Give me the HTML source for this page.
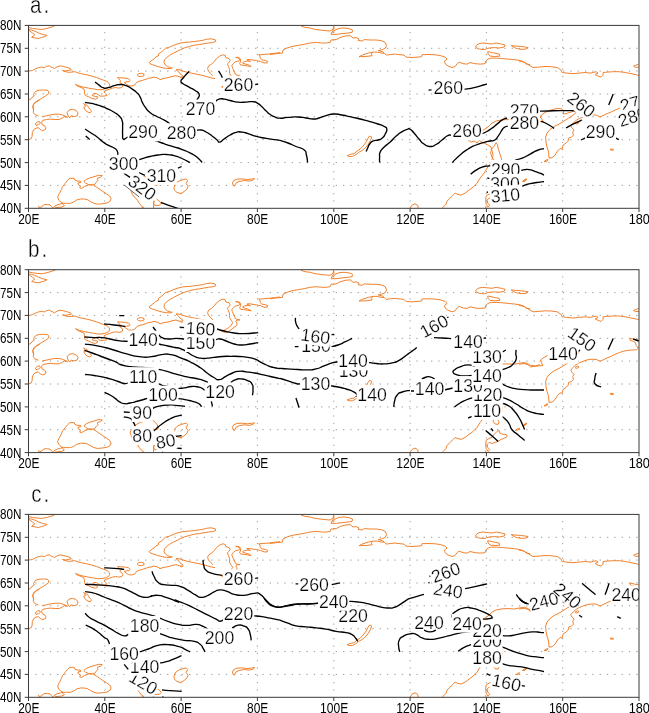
<!DOCTYPE html><html><head><meta charset="utf-8"><title>contours</title><style>html,body{margin:0;padding:0;background:#fff}svg{display:block}text{font-family:"Liberation Sans",sans-serif;fill:#000}</style></head><body>
<svg width="649" height="713" viewBox="0 0 649 713">
<rect width="649" height="713" fill="#fff"/>
<defs>
<clipPath id="cp"><rect x="28.5" y="25.4" width="610.5" height="182.9"/></clipPath>
<g id="coast"><path d="M28.6 27.6 L32.3 28.4 L37.3 29.1 L42.2 29.4 L47.1 28.4 L52.0 26.9 L55.7 25.4 M28.6 29.6 L31.7 30.1 L34.8 31.1 L38.5 32.9 L42.8 34.5 L47.1 35.4 L44.7 36.6 L41.6 37.5 L38.5 38.5 L34.8 37.9 L31.7 37.3 L33.6 35.8 L34.8 34.8 L32.3 32.9 L29.9 31.1 L28.6 29.9 M28.6 71.1 L32.3 70.5 L35.4 68.9 L38.5 67.6 L41.6 67.1 L44.7 67.6 L46.5 66.4 L49.6 65.7 L50.8 67.1 L52.7 67.6 L54.5 68.6 L57.0 66.8 L60.1 65.9 L63.1 66.4 L66.8 67.4 L70.5 68.6 L71.2 69.9 L68.1 70.5 L65.0 71.1 L62.5 70.5 L65.6 71.7 L68.7 72.3 L71.8 72.1 L74.9 71.7 L77.9 72.9 L81.6 73.8 L86.6 74.8 L91.5 76.0 L96.4 77.5 L100.0 78.7 M100.0 79.0 L103.3 80.1 L107.0 81.5 L109.2 83.5 L109.7 85.6 L108.5 87.5 L105.7 88.7 L102.0 89.6 L97.7 89.7 L93.4 88.9 L88.5 88.1 L83.6 87.2 L79.2 86.0 L75.5 84.4 L77.4 86.0 L81.1 87.5 L83.8 88.7 L84.5 91.2 L84.5 93.6 L85.4 95.5 L88.5 96.7 L91.6 98.3 L95.3 99.2 L97.4 98.3 L97.4 96.7 L94.7 96.3 L92.2 95.5 L93.4 93.6 L96.5 93.6 L98.4 94.9 L100.2 96.1 L103.9 96.1 L107.0 95.5 L105.7 93.6 L103.9 91.8 L105.7 90.5 L109.4 89.3 L112.5 88.1 L115.6 87.5 L118.7 88.1 L121.8 87.5 L122.8 85.6 L121.8 83.8 L119.9 82.5 L120.5 80.7 L118.7 78.8 L117.5 77.6 L121.8 77.8 L125.5 78.2 L128.6 78.8 L130.2 80.3 L129.2 81.5 L126.1 81.9 L124.2 82.5 L126.1 84.0 L128.6 85.6 L131.6 86.0 L134.7 85.0 L136.6 82.5 L139.0 81.3 L142.7 80.3 L146.4 79.1 L150.0 77.8 M137.2 75.1 L138.4 73.7 L141.5 73.3 L144.0 74.1 L144.0 75.7 L141.5 76.6 L138.8 76.4Z M28.6 100.4 L31.1 98.8 L32.7 96.7 L34.2 96.0 L33.6 94.5 L34.5 92.7 L36.0 91.1 L39.1 90.2 L43.4 90.0 L47.1 90.2 L49.0 91.8 L48.4 93.9 L45.9 95.7 L42.8 97.6 L39.7 99.4 L36.6 101.3 L34.2 103.1 L32.9 105.6 L32.9 108.1 L33.6 110.0 M39.7 100.0 L36.6 101.8 L34.2 103.7 L32.9 106.2 L33.6 109.2 L33.3 112.3 L34.8 114.5 L38.5 116.0 M42.2 116.6 L46.5 115.8 L50.8 114.8 L55.1 114.2 L59.4 114.2 L62.5 115.0 L65.0 116.0 L67.5 117.3 L64.4 116.6 L62.5 117.9 L59.4 119.5 L55.1 119.5 L50.8 119.1 L46.5 119.5 L42.8 120.3 L41.6 122.2 L42.2 124.7 L44.7 125.9 L45.9 127.7 L45.3 129.6 L42.8 130.6 L40.3 129.6 L38.5 127.7 L36.0 128.1 L33.8 129.6 L32.3 132.7 L32.1 136.4 L31.1 138.8 L28.6 139.7 M35.4 124.0 L37.3 121.9 L39.7 121.6 L40.3 123.4 L38.5 124.7 L36.0 125.3Z M83.6 103.5 L85.4 104.7 L87.3 105.3 L88.5 107.2 L89.7 109.0 L91.6 110.9 L90.3 112.7 L87.9 112.1 L86.0 110.9 L84.5 109.0 L83.8 107.2 L85.4 106.6 L84.8 105.0Z M67.1 112.5 L69.1 110.1 L72.5 109.3 L76.1 110.5 L78.1 113.1 L77.1 115.8 L74.1 116.6 L71.1 115.8 L69.7 117.8 L68.1 115.8Z M88.5 184.5 L85.7 183.2 L83.9 181.5 L86.2 179.5 L89.4 178.1 L94.0 176.7 L98.7 175.3 L102.3 175.6 L100.5 177.2 L97.7 178.1 L97.3 179.5 L98.2 180.2 L96.3 182.2 L94.5 184.5 L91.3 185.0Z M100.0 203.9 L97.7 204.2 L94.0 203.3 L90.3 201.4 L87.2 199.6 L84.1 199.0 L80.4 199.0 L76.7 200.0 L73.6 202.1 L70.5 203.3 L66.8 203.3 L63.1 203.3 L61.3 202.4 L58.8 200.2 L57.6 197.1 L59.4 193.4 L61.3 189.7 L62.5 186.7 L65.0 183.6 L67.5 180.5 L69.9 178.3 L74.2 178.3 L74.9 180.2 L77.9 181.1 L80.4 181.1 L81.0 182.3 L77.9 183.0 L78.6 184.8 L80.4 186.0 L79.8 187.9 L81.6 188.5 L84.1 186.7 L87.2 185.4 L89.0 184.8 L92.7 184.9 M63.1 203.3 L60.7 203.9 L57.0 204.9 L53.9 206.6 L52.3 208.2 M61.3 202.4 L63.1 204.5 L64.4 205.8 L61.9 207.0 L58.2 207.4 L54.5 207.9 M38.5 205.8 L39.1 207.6 L41.6 207.0 L42.8 205.4 L44.7 204.5 L47.7 204.5 L50.2 204.9 L51.4 206.4 L52.7 207.9 M93.6 185.2 L96.8 187.3 L99.6 189.2 L102.8 191.5 L106.5 193.8 L109.7 196.1 L111.1 198.9 L110.2 201.2 L107.0 203.0 L102.3 203.7 L100.0 203.9 M144.9 176.8 L140.5 178.0 L136.8 179.9 L133.8 182.3 L131.3 185.4 L130.1 188.5 L131.3 191.6 L132.5 194.7 L135.0 197.7 L137.5 200.2 L139.3 203.3 L141.2 205.8 L143.6 207.4 L141.2 208.5 M144.9 176.8 L149.2 175.3 L152.9 176.2 L155.3 178.0 L157.2 180.5 L158.4 183.6 L157.2 185.4 L153.5 184.8 M156.6 199.0 L159.0 200.8 L161.2 203.3 L159.3 205.4 L154.7 205.4 L153.5 203.3 L154.1 200.8 L153.5 205.4 L153.5 208.5 M149.2 62.5 L152.3 60.0 L154.2 58.8 L156.0 56.9 L158.5 55.7 L158.5 53.9 L161.6 52.0 L165.3 48.3 L169.6 47.1 L173.9 45.2 L178.2 43.7 L183.1 42.5 L189.3 42.1 L194.2 41.5 L199.2 40.9 L202.9 40.3 L206.6 39.3 L210.9 38.8 L215.2 39.7 L215.8 41.5 L212.7 42.5 L208.4 43.0 L204.1 43.7 L199.2 44.6 L194.2 45.2 L189.3 46.5 L184.4 47.9 L180.7 49.5 L177.0 51.4 L173.3 53.2 L169.6 55.3 L166.5 57.6 L164.4 60.0 L164.0 62.5 L165.3 64.9 L167.7 66.8 L170.8 67.7 L172.3 68.0 L170.2 68.6 L166.5 68.4 L162.2 67.7 L157.3 66.4 L152.9 64.9 L149.9 63.7Z M150.0 78.3 L154.0 77.1 L158.0 78.1 L160.0 79.7 L163.0 78.5 L168.0 77.7 L172.0 76.5 L176.0 75.7 L180.0 77.1 L182.1 78.1 L183.1 76.1 L180.0 73.7 L178.0 71.1 L176.0 69.7 L179.0 69.7 L183.1 71.1 L188.1 72.5 L194.1 73.7 L200.1 74.9 L205.1 76.1 L210.1 77.7 L215.1 78.7 M212.9 75.6 L210.5 73.3 L208.4 70.9 L207.6 68.4 L208.6 65.9 L211.7 64.1 L214.2 61.6 L216.6 58.5 L219.7 56.1 L222.8 54.8 L225.3 55.5 L225.9 57.7 L229.0 58.5 L230.2 60.4 L229.0 62.2 L227.4 64.1 L228.6 66.6 L229.6 69.6 L229.6 73.3 L231.4 76.4 L232.7 78.3 L231.4 80.7 L229.0 83.2 L225.3 85.3 L221.6 86.9 L224.7 88.1 L227.7 87.5 L230.8 85.7 L233.9 83.2 L236.7 81.3 L237.0 78.9 L235.7 77.0 L237.0 75.8 L240.1 75.6 L237.0 75.2 L235.1 74.0 L234.5 71.5 L233.3 69.6 L232.3 67.2 L231.8 65.3 L233.3 63.5 L235.7 61.6 L238.8 61.0 L240.1 59.2 L237.6 57.9 L235.7 57.3 L238.2 57.3 L240.1 58.5 L240.7 61.0 L239.7 63.5 L240.7 65.1 L243.8 65.3 L247.5 65.9 L251.2 66.6 L249.3 65.3 L245.6 64.1 L242.5 62.9 L244.4 61.6 L248.1 61.0 L250.5 61.6 L248.7 60.4 L246.8 59.8 L249.3 59.4 L253.0 60.1 L256.7 60.6 L260.4 61.4 L264.1 62.9 L267.2 62.9 L267.8 61.4 L265.3 60.4 L261.6 59.8 L260.2 57.9 L259.8 55.7 L258.6 54.8 L262.9 54.5 L269.0 54.0 L275.2 53.2 L280.0 52.7 M270.0 54.5 L276.0 53.7 L282.4 53.1 L283.0 50.0 L287.0 48.0 L292.0 46.4 L298.0 45.4 L304.1 44.4 L310.1 43.0 L316.1 42.4 L321.7 43.0 L326.1 43.0 L330.1 42.4 L331.1 40.0 L336.1 39.6 L340.1 37.6 L345.1 36.0 L350.1 35.6 L353.1 38.0 L356.1 37.6 L359.1 39.0 L358.1 40.4 L362.1 41.0 L364.2 39.6 L370.2 40.0 L376.2 40.0 L381.2 40.6 L385.2 42.4 L386.6 45.6 L385.2 48.4 L381.2 50.0 L378.2 50.6 L382.2 51.7 L384.2 53.1 L381.2 53.1 L377.2 52.1 L373.2 52.1 L371.2 54.1 L372.2 55.7 L366.2 56.5 L359.1 56.7 L362.1 55.1 L368.2 53.1 L373.2 52.1 M384.2 53.1 L386.2 55.1 L390.2 54.5 L395.2 54.1 L400.0 54.7 M301.0 26.0 L305.1 27.4 L310.1 28.0 L315.1 29.4 L320.1 30.0 L325.1 30.6 L330.1 31.0 L333.1 29.0 L333.7 26.0 M333.7 26.0 L334.1 29.0 L332.1 32.0 L331.1 34.4 L336.1 34.4 L342.1 33.6 L348.1 33.0 L352.1 32.4 L352.5 30.0 L349.1 28.6 L344.1 28.0 L339.1 28.4 L335.1 30.0 L332.5 33.0 M400.0 54.7 L404.0 55.1 L406.0 57.1 L412.0 57.5 L418.0 57.1 L421.6 56.7 L422.0 54.7 L428.0 54.5 L434.1 54.7 L440.1 55.5 L445.1 57.1 L447.1 59.1 L444.5 61.1 L445.1 63.7 L448.1 66.1 L452.1 67.5 L455.1 66.5 L457.1 63.7 L459.1 62.1 L463.1 63.7 L467.1 64.1 L470.1 62.5 L475.1 63.7 L480.1 64.1 L485.1 63.7 L485.7 61.1 L488.1 59.1 L491.1 58.1 L496.2 58.1 L502.2 58.5 L508.2 59.1 L514.2 59.7 L520.2 60.5 L524.2 62.1 L526.2 64.1 L530.0 64.5 M475.7 46.0 L478.1 44.0 L482.1 43.0 L488.1 43.6 L492.1 44.0 L496.2 43.0 L501.2 44.0 L505.2 45.0 L504.2 47.0 L499.2 48.0 L494.2 47.6 L489.1 48.0 L484.1 49.6 L479.1 49.0 L476.1 47.6Z M487.7 51.7 L490.1 52.1 L494.2 53.1 L499.2 54.1 L499.8 56.1 L495.2 56.5 L490.1 56.1 L488.1 54.1Z M511.2 45.6 L515.2 46.0 L520.2 46.4 L525.2 47.0 L528.2 47.6 L526.2 49.0 L521.2 49.4 L516.2 48.4 L513.2 47.0Z M519.0 61.1 L524.0 62.1 L529.0 65.1 L533.0 67.5 L539.0 67.1 L545.0 66.5 L551.1 66.7 L557.1 67.5 L561.1 70.1 L562.1 72.5 L567.1 73.1 L573.1 73.7 L579.1 73.1 L585.1 72.5 L590.1 73.1 L593.1 72.5 L596.1 71.7 L598.1 73.1 L595.1 74.5 L598.1 76.1 L601.1 77.1 L603.1 75.1 L603.1 72.5 L607.1 72.1 L613.2 71.7 L619.2 71.7 L625.2 72.5 L631.2 73.7 L636.2 74.7 L638.8 75.5 M638.8 64.1 L636.2 65.1 L633.6 66.1 L635.2 67.3 L638.8 67.1 M519.0 120.0 L524.0 119.2 L528.0 120.4 L530.6 122.5 L534.0 122.1 L539.0 121.5 L543.0 121.2 L541.4 118.4 L540.0 117.0 L541.4 115.0 L544.0 113.0 L549.0 110.6 L554.1 109.2 L558.1 108.4 L562.1 109.0 L563.5 111.6 L563.5 114.0 L566.1 113.6 L570.1 112.4 L574.1 111.0 L577.1 109.6 L579.7 105.2 M579.7 105.2 L578.3 109.0 L575.1 113.6 L571.5 116.4 L567.1 119.0 L563.1 121.7 L559.1 124.1 L554.1 126.5 L550.0 129.5 L547.0 133.1 L545.6 137.1 L546.0 142.1 L547.0 147.1 L548.6 152.1 L549.0 158.1 L552.1 157.7 L555.1 155.1 L557.5 151.1 L560.1 148.5 L562.1 149.1 L563.1 145.1 L566.1 143.1 L568.1 141.1 L568.7 138.1 L571.5 137.1 L573.5 135.1 L572.7 132.1 L574.1 130.1 L572.1 128.1 L570.7 125.7 L573.1 123.1 L576.1 120.4 L579.1 118.6 L583.1 117.0 L587.1 115.6 L591.1 115.0 L596.1 115.0 L600.1 117.0 L603.1 115.6 L607.1 113.6 L611.1 112.0 L615.2 110.0 L619.2 108.4 L623.2 107.0 L628.2 106.0 L633.2 105.6 L636.2 105.6 L638.2 104.0 L636.2 101.0 L635.2 98.0 L633.2 97.0 L630.2 96.0 L630.2 94.0 L634.2 95.0 L638.8 96.0 M544.0 161.7 L546.0 160.1 L548.0 159.5 L547.0 161.3Z M610.1 149.1 L613.2 149.3 L613.6 150.1 L610.7 150.1Z M575.1 123.3 L577.5 121.7 L579.1 122.7 L576.7 124.1Z M522.6 181.7 L524.6 179.7 L526.6 178.9 L525.0 181.1Z M174.0 187.5 L175.0 184.1 L178.0 181.5 L182.1 179.9 L186.1 178.9 L187.7 180.5 L186.1 183.5 L188.1 186.1 L187.1 188.9 L184.1 191.5 L181.0 193.5 L177.0 192.5 L174.4 190.1Z M232.5 182.9 L233.7 180.5 L237.1 179.1 L242.1 178.9 L247.2 179.5 L251.2 179.1 L254.6 178.5 L253.2 180.1 L249.2 181.1 L244.2 180.5 L239.1 181.5 L236.1 182.9 L234.5 186.1 L233.1 185.5Z M347.1 155.7 L350.1 154.5 L354.1 153.7 L357.1 151.1 L360.1 149.1 L363.1 146.1 L366.1 142.1 L368.1 138.0 L369.7 136.0 L371.7 137.0 L370.5 140.4 L368.1 144.5 L365.1 148.1 L362.1 150.5 L358.5 152.5 L356.1 154.5 L352.5 156.5 L349.1 156.5Z M481.1 131.0 L485.1 129.0 L489.1 126.0 L492.1 123.0 L496.1 121.0 L502.1 119.8 L508.2 119.6 L514.2 120.0 L519.2 119.0 L524.2 118.2 L528.2 119.6 L530.2 121.0 L535.2 121.6 L540.0 120.4 M481.1 131.0 L478.1 133.0 L474.1 137.0 L471.1 139.6 L468.1 140.0 L471.1 142.1 L474.1 141.0 L477.1 143.1 L479.1 140.4 L484.1 143.1 L488.1 145.1 L491.1 147.1 L492.1 151.1 L493.1 155.1 L492.1 159.1 L490.1 164.1 L487.1 168.1 L484.1 173.1 L480.1 178.1 L477.1 183.1 L473.1 187.1 L469.1 190.1 L465.1 193.1 L461.1 195.1 L457.1 194.1 L455.1 193.1 L453.1 195.1 L450.1 198.1 L447.1 201.1 L446.1 204.2 L443.1 207.2 L441.0 209.6 M496.1 142.7 L494.1 146.1 L491.7 149.1 L490.5 153.1 L492.1 157.1 L494.1 160.1 L495.1 165.1 L495.7 170.1 L494.1 174.1 L493.1 177.1 L495.1 179.7 L498.1 180.1 L499.1 177.7 L497.1 174.5 L499.1 171.1 L501.7 168.1 L502.1 163.1 L501.3 158.1 L499.7 153.1 L498.1 148.1 L497.3 144.5Z M486.1 196.1 L489.1 194.1 L492.1 193.1 L494.1 190.1 L497.1 187.1 L499.1 186.1 L500.1 189.1 L503.1 190.1 L506.2 190.1 L507.2 192.1 L504.2 194.1 L501.1 195.1 L498.1 197.1 L495.1 198.1 L492.1 199.1 L489.1 198.1 L487.1 200.1 L487.7 203.1 L489.7 205.2 L488.1 207.2 L486.1 204.2 L485.7 200.1Z M515.2 186.1 L517.2 184.7 L519.6 183.7 L518.2 185.5Z M522.8 181.3 L524.6 180.1 L526.6 179.3 L525.2 181.1Z M410.0 208.2 L412.0 205.2 L415.0 203.8 L417.6 205.2 L418.4 208.6 M485.7 206.2 L486.1 208.6 L488.5 209.6" fill="none" stroke="#f0822d" stroke-width="1" stroke-linejoin="round"/></g>
<g id="grid"><path d="M35.18 48.3H639.0 M35.18 71.1H639.0 M35.18 94.0H639.0 M35.18 116.8H639.0 M35.18 139.7H639.0 M35.18 162.6H639.0 M35.18 185.4H639.0" stroke="#9a9a9a" stroke-width="1" stroke-dasharray="1.3 6.03" fill="none"/><path d="M104.8 201.58V26.4 M181.1 201.58V26.4 M257.4 201.58V26.4 M333.8 201.58V26.4 M410.1 201.58V26.4 M486.4 201.58V26.4 M562.7 201.58V26.4" stroke="#9a9a9a" stroke-width="1" stroke-dasharray="1.2 6.12" fill="none"/></g>
<g id="frame"><rect x="28.5" y="25.4" width="610.5" height="182.9" fill="none" stroke="#3a3a3a" stroke-width="1"/><path d="M24.7 25.4H28.5 M28.5 208.3v3.7 M24.7 48.3H28.5 M104.8 208.3v3.7 M24.7 71.1H28.5 M181.1 208.3v3.7 M24.7 94.0H28.5 M257.4 208.3v3.7 M24.7 116.8H28.5 M333.8 208.3v3.7 M24.7 139.7H28.5 M410.1 208.3v3.7 M24.7 162.6H28.5 M486.4 208.3v3.7 M24.7 185.4H28.5 M562.7 208.3v3.7 M24.7 208.3H28.5 M639.0 208.3v3.7" stroke="#3a3a3a" stroke-width="1" fill="none"/></g>
</defs>
<g transform="translate(0 0.0)">
<use href="#grid"/>
<g clip-path="url(#cp)"><use href="#coast"/></g>
<path d="M95.1 82.1C96.4 83.1 96.4 83.2 99.1 85.1C101.8 87.0 100.1 86.8 103.1 87.7C106.1 88.6 104.4 88.4 108.1 87.7C111.8 87.0 110.1 86.8 114.1 85.7C118.1 84.6 116.2 84.5 120.2 84.5C124.2 84.5 122.2 84.2 126.2 85.7C130.2 87.2 128.5 86.6 132.2 89.1C135.9 91.6 134.5 90.4 137.2 93.1C139.9 95.8 138.5 94.1 140.2 97.1C141.9 100.1 140.5 98.8 142.2 102.1C143.9 105.4 142.6 103.6 145.2 107.1C147.8 110.6 146.4 109.6 150.0 112.6C153.6 115.6 152.0 113.9 156.0 116.0C160.0 118.1 158.0 116.9 162.0 119.0C166.0 121.1 165.3 120.6 168.0 122.4C170.7 124.2 169.3 123.7 170.0 124.4" fill="none" stroke="#000" stroke-width="1.35" stroke-linecap="butt" stroke-linejoin="round" clip-path="url(#cp)"/>
<path d="M196.1 130.6C197.8 130.4 197.8 129.5 201.1 130.0C204.4 130.5 202.4 130.0 206.1 132.0C209.8 134.0 208.4 133.3 212.1 136.0C215.8 138.7 214.6 138.0 217.1 140.0C219.6 142.0 217.2 142.4 219.5 142.1C221.8 141.8 220.6 141.4 224.1 139.0C227.6 136.6 226.1 137.2 230.1 135.0C234.1 132.8 232.4 133.4 236.1 132.4C239.8 131.4 237.1 131.6 241.1 132.0C245.1 132.4 243.2 132.1 248.2 133.6C253.2 135.1 250.2 134.8 256.2 136.4C262.2 138.0 260.2 137.3 266.2 138.4C272.2 139.5 269.6 138.9 274.2 139.6C278.8 140.3 278.1 140.1 280.0 140.4" fill="none" stroke="#000" stroke-width="1.35" stroke-linecap="butt" stroke-linejoin="round" clip-path="url(#cp)"/>
<path d="M280.0 140.4C282.7 141.3 282.7 141.0 288.0 143.0C293.3 145.0 290.7 144.3 296.0 146.5C301.3 148.7 300.5 146.9 304.0 149.7C307.5 152.5 305.2 150.7 306.4 155.0C307.6 159.3 307.2 160.0 307.6 162.5" fill="none" stroke="#000" stroke-width="1.35" stroke-linecap="butt" stroke-linejoin="round" clip-path="url(#cp)"/>
<path d="M85.1 102.5C86.8 102.7 86.4 102.4 90.1 103.1C93.8 103.8 92.1 103.4 96.1 104.5C100.1 105.6 98.1 105.0 102.1 106.5C106.1 108.0 104.1 107.2 108.1 109.1C112.1 111.0 110.4 109.9 114.1 112.2C117.8 114.5 116.5 113.1 119.2 116.0C121.9 118.9 121.1 117.3 122.2 121.0C123.3 124.7 122.5 122.7 122.6 127.0C122.7 131.3 122.4 130.0 122.6 134.0C122.8 138.0 122.0 137.7 123.2 139.0C124.4 140.3 124.2 139.0 126.2 138.0C128.2 137.0 128.2 136.7 129.2 136.0" fill="none" stroke="#000" stroke-width="1.35" stroke-linecap="butt" stroke-linejoin="round" clip-path="url(#cp)"/>
<path d="M154.0 140.0C156.7 141.0 156.7 141.1 162.0 143.0C167.3 144.9 164.7 144.0 170.0 145.7C175.3 147.4 172.7 146.2 178.0 148.0C183.3 149.8 181.0 148.8 186.0 151.0C191.0 153.2 188.7 151.8 193.0 154.5C197.3 157.2 196.0 156.3 199.0 159.0C202.0 161.7 201.0 161.3 202.0 162.5" fill="none" stroke="#000" stroke-width="1.35" stroke-linecap="butt" stroke-linejoin="round" clip-path="url(#cp)"/>
<path d="M85.1 129.0C87.1 130.3 87.1 130.3 91.1 133.0C95.1 135.7 93.1 134.0 97.1 137.0C101.1 140.0 99.1 139.1 103.1 142.0C107.1 144.9 105.4 143.7 109.1 145.7C112.8 147.7 111.4 146.2 114.1 148.0C116.8 149.8 116.0 148.7 117.2 151.0C118.4 153.3 117.6 153.7 117.8 155.0" fill="none" stroke="#000" stroke-width="1.35" stroke-linecap="butt" stroke-linejoin="round" clip-path="url(#cp)"/>
<path d="M85.7 136.0 L89.7 139.6" fill="none" stroke="#000" stroke-width="1.35" stroke-linecap="butt" stroke-linejoin="round" clip-path="url(#cp)"/>
<path d="M139.2 159.7C140.9 159.2 140.6 159.2 144.2 158.1C147.8 157.0 145.4 157.5 150.0 156.5C154.6 155.5 152.7 155.7 158.0 155.0C163.3 154.3 160.7 154.3 166.0 154.5C171.3 154.7 168.7 154.4 174.0 155.7C179.3 157.0 176.7 156.2 182.0 158.5C187.3 160.8 187.3 161.2 190.0 162.5" fill="none" stroke="#000" stroke-width="1.35" stroke-linecap="butt" stroke-linejoin="round" clip-path="url(#cp)"/>
<path d="M123.9 173.3 L130.0 177.4" fill="none" stroke="#000" stroke-width="1.35" stroke-linecap="butt" stroke-linejoin="round" clip-path="url(#cp)"/>
<path d="M138.7 172.5 L144.9 175.3" fill="none" stroke="#000" stroke-width="1.35" stroke-linecap="butt" stroke-linejoin="round" clip-path="url(#cp)"/>
<path d="M178.0 168.1 L181.6 166.5" fill="none" stroke="#000" stroke-width="1.35" stroke-linecap="butt" stroke-linejoin="round" clip-path="url(#cp)"/>
<path d="M161.0 202.5C163.3 203.4 163.7 203.6 168.0 205.1C172.3 206.6 170.7 206.0 174.0 207.1C177.3 208.2 176.7 208.0 178.0 208.5" fill="none" stroke="#000" stroke-width="1.35" stroke-linecap="butt" stroke-linejoin="round" clip-path="url(#cp)"/>
<path d="M189.1 71.5C188.1 72.5 188.1 72.3 186.1 74.5C184.1 76.7 184.8 75.9 183.1 78.1C181.4 80.3 181.0 79.2 181.0 81.1C181.0 83.0 180.4 81.7 183.1 83.7C185.8 85.7 185.1 84.8 189.1 87.1C193.1 89.4 191.8 88.2 195.1 90.5C198.4 92.8 198.1 91.6 199.1 94.1C200.1 96.6 199.0 96.1 198.1 98.1C197.2 100.1 197.0 99.4 196.5 100.1" fill="none" stroke="#000" stroke-width="1.35" stroke-linecap="butt" stroke-linejoin="round" clip-path="url(#cp)"/>
<path d="M215.7 101.1C216.8 100.4 216.3 99.8 219.1 99.1C221.9 98.4 220.4 98.6 224.1 99.1C227.8 99.6 225.4 99.5 230.1 100.5C234.8 101.5 232.7 101.6 238.1 102.1C243.5 102.6 241.2 102.2 246.2 102.1C251.2 102.0 249.2 101.2 253.2 101.7C257.2 102.2 255.2 101.9 258.2 103.7C261.2 105.5 259.5 104.6 262.2 107.1C264.9 109.6 263.5 108.6 266.2 111.1C268.9 113.6 267.2 112.5 270.2 114.5C273.2 116.5 271.9 115.9 275.2 117.1C278.5 118.3 275.7 118.1 280.0 118.2C284.3 118.3 282.0 117.8 288.0 117.4C294.0 117.0 292.0 116.8 298.0 117.0C304.0 117.2 301.0 117.3 306.0 118.0C311.0 118.7 308.7 119.0 313.0 119.0C317.3 119.0 314.7 119.1 319.0 118.0C323.3 116.9 321.0 116.9 326.0 115.6C331.0 114.3 328.7 114.2 334.0 114.0C339.3 113.8 336.7 114.1 342.0 115.0C347.3 115.9 344.0 115.3 350.0 116.6C356.0 117.9 353.3 117.3 360.0 119.0C366.7 120.7 364.0 119.9 370.0 121.6C376.0 123.3 373.3 122.4 378.0 124.0C382.7 125.6 381.1 124.7 384.0 126.4C386.9 128.1 386.4 126.5 386.8 129.0C387.2 131.5 386.7 131.0 385.2 134.0C383.7 137.0 384.5 136.0 382.2 138.0C379.9 140.0 381.2 139.0 378.2 140.0C375.2 141.0 376.0 139.7 373.2 141.0C370.4 142.3 371.5 141.7 369.7 144.0C367.9 146.3 368.9 145.5 367.7 148.0C366.5 150.5 366.6 150.3 366.1 151.5" fill="none" stroke="#000" stroke-width="1.35" stroke-linecap="butt" stroke-linejoin="round" clip-path="url(#cp)"/>
<path d="M218.5 71.1C219.2 72.1 219.2 71.8 220.5 74.0C221.8 76.2 221.8 76.5 222.5 77.7" fill="none" stroke="#000" stroke-width="1.35" stroke-linecap="butt" stroke-linejoin="round" clip-path="url(#cp)"/>
<path d="M255.2 84.5 L258.2 84.1" fill="none" stroke="#000" stroke-width="1.35" stroke-linecap="butt" stroke-linejoin="round" clip-path="url(#cp)"/>
<path d="M428.5 90.2 L431.5 89.8" fill="none" stroke="#000" stroke-width="1.35" stroke-linecap="butt" stroke-linejoin="round" clip-path="url(#cp)"/>
<path d="M464.6 89.1C466.2 89.0 466.1 89.2 469.3 88.7C472.5 88.2 470.9 88.4 474.2 87.6C477.5 86.8 476.1 87.2 479.2 86.3C482.3 85.4 480.9 85.7 483.5 85.0C486.1 84.3 485.8 84.5 486.9 84.2" fill="none" stroke="#000" stroke-width="1.35" stroke-linecap="butt" stroke-linejoin="round" clip-path="url(#cp)"/>
<path d="M379.6 162.5C379.6 160.7 379.4 160.5 379.6 157.0C379.8 153.5 378.7 155.3 380.2 152.0C381.7 148.7 380.9 150.3 384.2 147.0C387.5 143.7 386.2 145.7 390.2 142.0C394.2 138.3 392.2 139.5 396.2 136.0C400.2 132.5 398.5 133.8 402.2 131.6C405.9 129.4 404.6 130.2 407.2 129.4C409.8 128.6 407.7 128.0 410.0 129.2C412.3 130.4 411.0 129.7 414.0 133.0C417.0 136.3 415.7 135.3 419.0 139.0C422.3 142.7 420.3 141.5 424.0 144.0C427.7 146.5 426.0 146.3 430.0 146.5C434.0 146.7 432.0 146.7 436.0 144.5C440.0 142.3 438.3 142.8 442.0 140.0C445.7 137.2 444.0 137.7 447.0 136.0C450.0 134.3 449.7 135.3 451.0 135.0" fill="none" stroke="#000" stroke-width="1.35" stroke-linecap="butt" stroke-linejoin="round" clip-path="url(#cp)"/>
<path d="M480.0 134.4C481.6 133.8 481.2 134.4 484.9 132.5C488.6 130.6 487.0 131.7 491.1 128.8C495.2 125.9 493.4 127.0 497.3 123.9C501.2 120.8 499.5 121.5 502.8 119.6C506.1 117.7 505.7 118.6 507.1 118.1" fill="none" stroke="#000" stroke-width="1.35" stroke-linecap="butt" stroke-linejoin="round" clip-path="url(#cp)"/>
<path d="M452.1 162.5C454.8 160.0 454.8 159.5 460.1 155.0C465.4 150.5 462.8 152.3 468.1 149.0C473.4 145.7 470.8 147.2 476.1 145.0C481.4 142.8 479.4 143.7 484.1 142.4C488.8 141.1 486.5 141.8 490.1 141.0C493.7 140.2 492.0 141.8 494.8 140.0C497.6 138.2 496.2 138.7 498.5 135.6C500.8 132.5 499.8 133.4 501.6 130.7C503.4 128.0 502.0 129.1 504.0 127.6C506.0 126.1 506.5 126.6 507.7 126.1" fill="none" stroke="#000" stroke-width="1.35" stroke-linecap="butt" stroke-linejoin="round" clip-path="url(#cp)"/>
<path d="M539.8 111.2C542.9 111.1 542.3 111.2 549.0 111.0C555.7 110.8 551.0 110.7 560.0 110.6C569.0 110.5 570.7 110.7 576.0 110.8" fill="none" stroke="#000" stroke-width="1.35" stroke-linecap="butt" stroke-linejoin="round" clip-path="url(#cp)"/>
<path d="M541.0 121.4C542.5 121.9 542.3 121.5 545.4 123.0C548.5 124.5 547.4 124.0 550.3 125.8C553.2 127.6 552.8 127.6 554.0 128.5" fill="none" stroke="#000" stroke-width="1.35" stroke-linecap="butt" stroke-linejoin="round" clip-path="url(#cp)"/>
<path d="M566.0 128.0C568.7 126.6 568.7 126.4 574.0 123.7C579.3 121.0 579.3 121.2 582.0 120.0" fill="none" stroke="#000" stroke-width="1.35" stroke-linecap="butt" stroke-linejoin="round" clip-path="url(#cp)"/>
<path d="M608.7 105.0C609.5 103.2 609.5 103.2 611.0 99.5C612.5 95.8 612.5 95.8 613.2 94.0" fill="none" stroke="#000" stroke-width="1.35" stroke-linecap="butt" stroke-linejoin="round" clip-path="url(#cp)"/>
<path d="M581.0 140.0 L586.0 137.7" fill="none" stroke="#000" stroke-width="1.35" stroke-linecap="butt" stroke-linejoin="round" clip-path="url(#cp)"/>
<path d="M614.8 137.7 L618.8 139.7" fill="none" stroke="#000" stroke-width="1.35" stroke-linecap="butt" stroke-linejoin="round" clip-path="url(#cp)"/>
<path d="M470.7 174.1C472.5 172.8 472.3 172.4 476.1 170.1C479.9 167.8 478.4 168.4 482.1 167.1C485.8 165.8 484.1 166.5 487.1 166.1C490.1 165.7 489.7 166.0 491.0 166.0" fill="none" stroke="#000" stroke-width="1.35" stroke-linecap="butt" stroke-linejoin="round" clip-path="url(#cp)"/>
<path d="M521.0 170.3C522.3 170.1 522.3 169.8 525.0 169.6C527.7 169.4 526.1 169.1 529.2 169.6C532.3 170.1 530.6 169.9 534.2 171.1C537.8 172.3 536.7 171.9 540.0 173.2C543.3 174.5 542.7 174.5 544.0 175.1" fill="none" stroke="#000" stroke-width="1.35" stroke-linecap="butt" stroke-linejoin="round" clip-path="url(#cp)"/>
<path d="M515.2 160.1C517.5 159.4 517.2 160.1 522.2 158.1C527.2 156.1 525.3 156.6 530.2 154.1C535.1 151.6 532.4 152.3 537.0 150.5C541.6 148.7 541.7 149.2 544.0 148.6" fill="none" stroke="#000" stroke-width="1.35" stroke-linecap="butt" stroke-linejoin="round" clip-path="url(#cp)"/>
<path d="M487.3 177.8 L489.7 178.7" fill="none" stroke="#000" stroke-width="1.35" stroke-linecap="butt" stroke-linejoin="round" clip-path="url(#cp)"/>
<path d="M486.6 192.3 L488.0 192.0" fill="none" stroke="#000" stroke-width="1.35" stroke-linecap="butt" stroke-linejoin="round" clip-path="url(#cp)"/>
<path d="M491.8 186.6 L493.0 186.3" fill="none" stroke="#000" stroke-width="1.35" stroke-linecap="butt" stroke-linejoin="round" clip-path="url(#cp)"/>
<path d="M522.2 186.1C524.9 185.3 524.3 185.0 530.2 183.7C536.1 182.4 535.4 182.8 540.0 182.1C544.6 181.4 542.7 181.8 544.0 181.7" fill="none" stroke="#000" stroke-width="1.35" stroke-linecap="butt" stroke-linejoin="round" clip-path="url(#cp)"/>
<g clip-path="url(#cp)">
<g transform="rotate(0 238.5 85.1)"><rect x="223.0" y="75.8" width="31.0" height="18.7" fill="#fff"/><text x="238.5" y="85.1" font-size="17.7" text-anchor="middle" dy="6.3" stroke="#fff" stroke-width="0.25">260</text></g>
<g transform="rotate(0 448.3 88)"><rect x="432.8" y="78.7" width="31.0" height="18.7" fill="#fff"/><text x="448.3" y="88" font-size="17.7" text-anchor="middle" dy="6.3" stroke="#fff" stroke-width="0.25">260</text></g>
<g transform="rotate(0 467.1 131)"><rect x="451.6" y="121.7" width="31.0" height="18.7" fill="#fff"/><text x="467.1" y="131" font-size="17.7" text-anchor="middle" dy="6.3" stroke="#fff" stroke-width="0.25">260</text></g>
<g transform="rotate(38 581.5 104.5)"><rect x="566.0" y="95.2" width="31.0" height="18.7" fill="#fff"/><text x="581.5" y="104.5" font-size="17.7" text-anchor="middle" dy="6.3" stroke="#fff" stroke-width="0.25">260</text></g>
<g transform="rotate(0 200.5 108.7)"><rect x="185.0" y="99.4" width="31.0" height="18.7" fill="#fff"/><text x="200.5" y="108.7" font-size="17.7" text-anchor="middle" dy="6.3" stroke="#fff" stroke-width="0.25">270</text></g>
<g transform="rotate(0 524.4 111)"><rect x="508.9" y="101.7" width="31.0" height="18.7" fill="#fff"/><text x="524.4" y="111" font-size="17.7" text-anchor="middle" dy="6.3" stroke="#fff" stroke-width="0.25">270</text></g>
<g transform="rotate(-15 634.6 102.4)"><rect x="619.1" y="93.1" width="31.0" height="18.7" fill="#fff"/><text x="634.6" y="102.4" font-size="17.7" text-anchor="middle" dy="6.3" stroke="#fff" stroke-width="0.25">270</text></g>
<g transform="rotate(0 181.5 132.6)"><rect x="166.0" y="123.3" width="31.0" height="18.7" fill="#fff"/><text x="181.5" y="132.6" font-size="17.7" text-anchor="middle" dy="6.3" stroke="#fff" stroke-width="0.25">280</text></g>
<g transform="rotate(0 524.4 122.6)"><rect x="508.9" y="113.3" width="31.0" height="18.7" fill="#fff"/><text x="524.4" y="122.6" font-size="17.7" text-anchor="middle" dy="6.3" stroke="#fff" stroke-width="0.25">280</text></g>
<g transform="rotate(-18 632.5 116.6)"><rect x="617.0" y="107.3" width="31.0" height="18.7" fill="#fff"/><text x="632.5" y="116.6" font-size="17.7" text-anchor="middle" dy="6.3" stroke="#fff" stroke-width="0.25">280</text></g>
<g transform="rotate(0 143 132)"><rect x="127.5" y="122.7" width="31.0" height="18.7" fill="#fff"/><text x="143" y="132" font-size="17.7" text-anchor="middle" dy="6.3" stroke="#fff" stroke-width="0.25">290</text></g>
<g transform="rotate(0 600.5 131.7)"><rect x="585.0" y="122.4" width="31.0" height="18.7" fill="#fff"/><text x="600.5" y="131.7" font-size="17.7" text-anchor="middle" dy="6.3" stroke="#fff" stroke-width="0.25">290</text></g>
<g transform="rotate(0 505.7 169.2)"><rect x="490.2" y="159.9" width="31.0" height="18.7" fill="#fff"/><text x="505.7" y="169.2" font-size="17.7" text-anchor="middle" dy="6.3" stroke="#fff" stroke-width="0.25">290</text></g>
<g transform="rotate(0 123.6 164.1)"><rect x="108.1" y="154.8" width="31.0" height="18.7" fill="#fff"/><text x="123.6" y="164.1" font-size="17.7" text-anchor="middle" dy="6.3" stroke="#fff" stroke-width="0.25">300</text></g>
<g transform="rotate(0 505 183.3)"><rect x="489.5" y="174.0" width="31.0" height="18.7" fill="#fff"/><text x="505" y="183.3" font-size="17.7" text-anchor="middle" dy="6.3" stroke="#fff" stroke-width="0.25">300</text></g>
<g transform="rotate(0 161.4 175.4)"><rect x="145.9" y="166.1" width="31.0" height="18.7" fill="#fff"/><text x="161.4" y="175.4" font-size="17.7" text-anchor="middle" dy="6.3" stroke="#fff" stroke-width="0.25">310</text></g>
<g transform="rotate(-5 505.3 195.1)"><rect x="489.8" y="185.8" width="31.0" height="18.7" fill="#fff"/><text x="505.3" y="195.1" font-size="17.7" text-anchor="middle" dy="6.3" stroke="#fff" stroke-width="0.25">310</text></g>
<g transform="rotate(37 142.3 187.5)"><rect x="126.8" y="178.2" width="31.0" height="18.7" fill="#fff"/><text x="142.3" y="187.5" font-size="17.7" text-anchor="middle" dy="6.3" stroke="#fff" stroke-width="0.25">320</text></g>
<path d="M123.9 184.8 L139.3 197.1" fill="none" stroke="#000" stroke-width="0.6"/>
</g>
<use href="#frame"/>
<text x="21.3" y="30.4"  font-size="14" text-anchor="end" textLength="21.4" lengthAdjust="spacingAndGlyphs">80N</text>
<text x="21.3" y="53.3"  font-size="14" text-anchor="end" textLength="21.4" lengthAdjust="spacingAndGlyphs">75N</text>
<text x="21.3" y="76.1"  font-size="14" text-anchor="end" textLength="21.4" lengthAdjust="spacingAndGlyphs">70N</text>
<text x="21.3" y="99.0"  font-size="14" text-anchor="end" textLength="21.4" lengthAdjust="spacingAndGlyphs">65N</text>
<text x="21.3" y="121.8"  font-size="14" text-anchor="end" textLength="21.4" lengthAdjust="spacingAndGlyphs">60N</text>
<text x="21.3" y="144.7"  font-size="14" text-anchor="end" textLength="21.4" lengthAdjust="spacingAndGlyphs">55N</text>
<text x="21.3" y="167.6"  font-size="14" text-anchor="end" textLength="21.4" lengthAdjust="spacingAndGlyphs">50N</text>
<text x="21.3" y="190.4"  font-size="14" text-anchor="end" textLength="21.4" lengthAdjust="spacingAndGlyphs">45N</text>
<text x="21.3" y="213.3"  font-size="14" text-anchor="end" textLength="21.4" lengthAdjust="spacingAndGlyphs">40N</text>
<text x="28.8" y="224.0" font-size="14" text-anchor="middle" textLength="21.2" lengthAdjust="spacingAndGlyphs">20E</text>
<text x="105.1" y="224.0" font-size="14" text-anchor="middle" textLength="21.2" lengthAdjust="spacingAndGlyphs">40E</text>
<text x="181.4" y="224.0" font-size="14" text-anchor="middle" textLength="21.2" lengthAdjust="spacingAndGlyphs">60E</text>
<text x="257.7" y="224.0" font-size="14" text-anchor="middle" textLength="21.2" lengthAdjust="spacingAndGlyphs">80E</text>
<text x="334.1" y="224.0" font-size="14" text-anchor="middle" textLength="28.2" lengthAdjust="spacingAndGlyphs">100E</text>
<text x="410.4" y="224.0" font-size="14" text-anchor="middle" textLength="28.2" lengthAdjust="spacingAndGlyphs">120E</text>
<text x="486.7" y="224.0" font-size="14" text-anchor="middle" textLength="28.2" lengthAdjust="spacingAndGlyphs">140E</text>
<text x="563.0" y="224.0" font-size="14" text-anchor="middle" textLength="28.2" lengthAdjust="spacingAndGlyphs">160E</text>
<text x="639.3" y="224.0" font-size="14" text-anchor="middle" textLength="21.2" lengthAdjust="spacingAndGlyphs">180</text>
<text transform="translate(30.0 12.7) scale(0.86 1)" font-size="24" letter-spacing="2.4" stroke="#fff" stroke-width="0.4">a.</text>
</g>
<g transform="translate(0 244.3)">
<use href="#grid"/>
<g clip-path="url(#cp)"><use href="#coast"/></g>
<path d="M119.2 71.3 L124.2 71.3" fill="none" stroke="#000" stroke-width="1.35" stroke-linecap="butt" stroke-linejoin="round" clip-path="url(#cp)"/>
<path d="M104.1 79.7C107.5 80.0 107.2 79.9 114.2 80.7C121.2 81.5 121.5 81.6 125.2 82.1" fill="none" stroke="#000" stroke-width="1.35" stroke-linecap="butt" stroke-linejoin="round" clip-path="url(#cp)"/>
<path d="M84.5 92.7C87.7 92.9 88.2 93.1 94.1 93.3C100.0 93.5 96.8 92.8 102.1 93.3C107.4 93.8 104.7 93.7 110.1 94.7C115.5 95.7 112.2 95.5 118.2 96.3C124.2 97.1 124.9 96.8 128.2 97.1" fill="none" stroke="#000" stroke-width="1.35" stroke-linecap="butt" stroke-linejoin="round" clip-path="url(#cp)"/>
<path d="M84.9 99.8C89.0 100.4 88.3 99.7 97.3 101.5C106.3 103.3 102.2 102.5 112.0 105.2C121.8 107.9 117.7 107.2 126.8 109.6C135.9 112.0 131.0 111.5 139.2 112.4C147.4 113.3 144.1 113.1 151.5 112.4C158.9 111.7 154.8 111.0 161.4 110.3C168.0 109.6 164.6 109.2 171.2 110.4C177.8 111.6 174.5 111.3 181.1 113.8C187.7 116.3 184.4 114.7 191.0 118.0C197.6 121.3 195.4 120.1 200.8 123.7C206.2 127.3 202.7 125.5 207.1 128.7C211.5 131.9 209.8 131.0 213.9 133.2C218.0 135.4 215.3 135.8 219.3 135.4C223.3 135.0 221.4 134.2 225.8 132.0C230.2 129.8 228.3 130.4 232.5 128.7C236.7 127.0 234.0 127.4 238.5 127.0C243.0 126.6 240.7 126.9 246.1 127.5C251.5 128.1 248.4 127.6 254.6 128.7C260.8 129.8 257.9 129.4 264.7 130.9C271.5 132.4 269.8 132.1 274.9 133.2C280.0 134.3 278.3 133.9 280.0 134.3" fill="none" stroke="#000" stroke-width="1.35" stroke-linecap="butt" stroke-linejoin="round" clip-path="url(#cp)"/>
<path d="M84.5 106.1C87.0 107.0 86.9 106.8 92.1 108.7C97.3 110.6 94.8 109.7 100.1 111.7C105.4 113.7 102.7 112.7 108.1 114.7C113.5 116.7 112.2 116.0 116.2 117.8C120.2 119.6 116.2 118.8 120.2 120.2C124.2 121.6 122.9 121.1 128.2 122.0C133.5 122.9 128.9 122.3 136.2 122.8C143.5 123.3 142.7 122.9 150.0 123.6C157.3 124.3 152.7 123.9 158.0 125.0C163.3 126.1 160.0 125.2 166.0 126.8C172.0 128.4 169.3 127.9 176.0 129.8C182.7 131.7 179.3 130.9 186.0 132.4C192.7 133.9 190.3 133.0 196.0 134.2C201.7 135.4 199.0 134.7 203.0 136.0C207.0 137.3 206.3 137.5 208.0 138.2" fill="none" stroke="#000" stroke-width="1.35" stroke-linecap="butt" stroke-linejoin="round" clip-path="url(#cp)"/>
<path d="M179.6 82.9 L184.1 83.3" fill="none" stroke="#000" stroke-width="1.35" stroke-linecap="butt" stroke-linejoin="round" clip-path="url(#cp)"/>
<path d="M217.1 84.7C219.4 85.4 218.4 85.4 224.1 86.7C229.8 88.0 227.4 87.8 234.1 88.7C240.8 89.6 236.2 89.4 244.2 89.3C252.2 89.2 253.5 88.6 258.2 88.3" fill="none" stroke="#000" stroke-width="1.35" stroke-linecap="butt" stroke-linejoin="round" clip-path="url(#cp)"/>
<path d="M159.0 90.7C160.0 91.6 159.0 92.0 162.0 93.3C165.0 94.6 163.3 94.4 168.0 94.7C172.7 95.0 170.6 94.1 176.0 94.1C181.4 94.1 181.4 94.5 184.1 94.7" fill="none" stroke="#000" stroke-width="1.35" stroke-linecap="butt" stroke-linejoin="round" clip-path="url(#cp)"/>
<path d="M216.1 95.3C217.4 95.1 216.8 94.2 220.1 94.7C223.4 95.2 221.4 95.0 226.1 96.7C230.8 98.4 228.8 98.4 234.1 99.7C239.4 101.0 236.7 100.7 242.1 100.7C247.5 100.7 244.8 100.5 250.2 99.7C255.6 98.9 255.5 98.8 258.2 98.3" fill="none" stroke="#000" stroke-width="1.35" stroke-linecap="butt" stroke-linejoin="round" clip-path="url(#cp)"/>
<path d="M153.0 82.7 L156.0 86.7" fill="none" stroke="#000" stroke-width="1.35" stroke-linecap="butt" stroke-linejoin="round" clip-path="url(#cp)"/>
<path d="M159.0 99.7C162.0 100.4 162.7 100.5 168.0 101.7C173.3 102.9 171.0 102.4 175.0 103.2C179.0 104.0 176.1 102.7 180.0 104.1C183.9 105.5 182.3 105.0 186.8 107.5C191.3 110.0 189.1 109.6 193.6 111.7C198.1 113.8 195.8 113.2 200.3 113.9C204.8 114.6 202.6 114.2 207.1 113.9C211.6 113.6 208.8 113.7 213.9 113.1C219.0 112.5 216.8 112.6 222.4 112.2C228.0 111.8 225.2 112.0 230.8 112.0C236.4 112.0 233.6 111.8 239.3 112.2C245.0 112.6 242.7 112.3 247.8 113.1C252.9 113.9 250.6 113.2 254.6 114.6C258.6 116.0 255.8 115.3 259.7 117.3C263.6 119.3 261.9 118.8 266.4 120.7C270.9 122.6 268.7 121.9 273.2 123.1C277.7 124.3 277.7 123.8 280.0 124.2" fill="none" stroke="#000" stroke-width="1.35" stroke-linecap="butt" stroke-linejoin="round" clip-path="url(#cp)"/>
<path d="M295.4 73.6C295.6 75.5 294.8 75.5 296.0 79.2C297.2 82.9 298.1 82.9 299.1 84.7" fill="none" stroke="#000" stroke-width="1.35" stroke-linecap="butt" stroke-linejoin="round" clip-path="url(#cp)"/>
<path d="M331.2 90.3 L334.3 90.0" fill="none" stroke="#000" stroke-width="1.35" stroke-linecap="butt" stroke-linejoin="round" clip-path="url(#cp)"/>
<path d="M294.8 102.3 L298.5 102.3" fill="none" stroke="#000" stroke-width="1.35" stroke-linecap="butt" stroke-linejoin="round" clip-path="url(#cp)"/>
<path d="M331.2 102.3C333.5 101.8 333.3 102.3 338.0 100.7C342.7 99.1 340.7 99.6 345.4 97.4C350.1 95.2 349.9 95.1 352.1 94.0" fill="none" stroke="#000" stroke-width="1.35" stroke-linecap="butt" stroke-linejoin="round" clip-path="url(#cp)"/>
<path d="M446.1 73.7 L448.5 72.7" fill="none" stroke="#000" stroke-width="1.35" stroke-linecap="butt" stroke-linejoin="round" clip-path="url(#cp)"/>
<path d="M434.0 93.3C436.7 93.4 436.4 93.4 442.1 93.7C447.8 94.0 448.1 94.1 451.1 94.3" fill="none" stroke="#000" stroke-width="1.35" stroke-linecap="butt" stroke-linejoin="round" clip-path="url(#cp)"/>
<path d="M482.1 94.1 L486.1 93.7" fill="none" stroke="#000" stroke-width="1.35" stroke-linecap="butt" stroke-linejoin="round" clip-path="url(#cp)"/>
<path d="M502.5 107.7 L505.8 105.7" fill="none" stroke="#000" stroke-width="1.35" stroke-linecap="butt" stroke-linejoin="round" clip-path="url(#cp)"/>
<path d="M608.1 105.3C609.0 103.4 609.0 103.4 610.7 99.7C612.4 96.0 612.4 96.0 613.2 94.1" fill="none" stroke="#000" stroke-width="1.35" stroke-linecap="butt" stroke-linejoin="round" clip-path="url(#cp)"/>
<path d="M577.1 107.1 L580.1 106.1" fill="none" stroke="#000" stroke-width="1.35" stroke-linecap="butt" stroke-linejoin="round" clip-path="url(#cp)"/>
<path d="M633.2 94.7 L638.8 96.7" fill="none" stroke="#000" stroke-width="1.35" stroke-linecap="butt" stroke-linejoin="round" clip-path="url(#cp)"/>
<path d="M85.1 130.2C88.1 130.5 88.4 130.4 94.1 131.2C99.8 132.0 96.8 131.5 102.1 132.6C107.4 133.7 104.7 133.1 110.1 134.6C115.5 136.1 113.5 135.7 118.2 137.2C122.9 138.7 120.9 138.7 124.2 139.2C127.5 139.7 126.9 138.8 128.2 138.6" fill="none" stroke="#000" stroke-width="1.35" stroke-linecap="butt" stroke-linejoin="round" clip-path="url(#cp)"/>
<path d="M104.5 148.1C106.4 149.0 106.5 148.7 110.1 150.7C113.7 152.7 112.2 151.9 115.2 154.1C118.2 156.3 116.2 155.6 119.2 157.3C122.2 159.0 120.5 158.8 124.2 159.3C127.9 159.8 125.5 159.6 130.2 158.7C134.9 157.8 132.5 158.2 138.2 156.7C143.9 155.2 144.2 155.0 147.2 154.1" fill="none" stroke="#000" stroke-width="1.35" stroke-linecap="butt" stroke-linejoin="round" clip-path="url(#cp)"/>
<path d="M123.8 167.7 L129.8 168.1" fill="none" stroke="#000" stroke-width="1.35" stroke-linecap="butt" stroke-linejoin="round" clip-path="url(#cp)"/>
<path d="M123.8 172.7C125.6 173.0 126.3 172.4 129.2 173.7C132.1 175.0 130.6 174.0 132.6 176.7C134.6 179.4 134.3 180.0 135.2 181.7" fill="none" stroke="#000" stroke-width="1.35" stroke-linecap="butt" stroke-linejoin="round" clip-path="url(#cp)"/>
<path d="M158.4 139.2C159.6 139.8 159.2 140.0 162.1 141.0C165.0 142.0 163.7 141.4 167.0 142.2C170.3 143.0 168.4 142.9 171.9 143.5C175.4 144.1 173.4 144.1 177.5 144.1C181.6 144.1 179.6 144.1 184.3 143.5C189.0 142.9 186.8 142.4 191.7 142.2C196.6 142.0 194.9 141.9 199.0 142.9C203.1 143.9 201.3 143.8 204.0 145.3C206.7 146.8 205.7 146.3 207.0 147.5C208.3 148.7 207.7 148.4 208.0 148.8" fill="none" stroke="#000" stroke-width="1.35" stroke-linecap="butt" stroke-linejoin="round" clip-path="url(#cp)"/>
<path d="M211.1 156.1 L212.5 162.1" fill="none" stroke="#000" stroke-width="1.35" stroke-linecap="butt" stroke-linejoin="round" clip-path="url(#cp)"/>
<path d="M230.8 138.0C232.5 137.1 232.5 136.5 235.9 135.4C239.3 134.3 237.0 134.3 241.0 134.6C245.0 134.9 244.1 134.6 247.8 136.3C251.5 138.0 250.3 136.9 252.0 139.7C253.7 142.5 252.8 141.0 253.0 144.8C253.2 148.6 252.7 148.9 252.5 151.0" fill="none" stroke="#000" stroke-width="1.35" stroke-linecap="butt" stroke-linejoin="round" clip-path="url(#cp)"/>
<path d="M177.5 154.2C179.3 154.4 179.1 154.2 183.0 154.9C186.9 155.6 185.1 155.2 189.2 156.2C193.3 157.2 191.9 156.6 195.4 157.9C198.9 159.2 197.7 158.5 199.7 160.1C201.7 161.7 200.9 161.8 201.5 162.6" fill="none" stroke="#000" stroke-width="1.35" stroke-linecap="butt" stroke-linejoin="round" clip-path="url(#cp)"/>
<path d="M153.0 164.1C154.7 163.4 153.0 163.2 158.0 162.1C163.0 161.0 161.3 161.0 168.0 160.7C174.7 160.4 172.3 160.8 178.0 161.3C183.7 161.8 182.7 161.8 185.1 162.1" fill="none" stroke="#000" stroke-width="1.35" stroke-linecap="butt" stroke-linejoin="round" clip-path="url(#cp)"/>
<path d="M154.0 186.7C154.7 186.0 153.3 187.0 156.0 184.7C158.7 182.4 157.3 183.0 162.0 179.7C166.7 176.4 165.3 177.2 170.0 174.7C174.7 172.2 172.1 173.4 176.0 172.1C179.9 170.8 179.8 171.2 181.7 170.7" fill="none" stroke="#000" stroke-width="1.35" stroke-linecap="butt" stroke-linejoin="round" clip-path="url(#cp)"/>
<path d="M176.0 192.1 L181.7 191.3" fill="none" stroke="#000" stroke-width="1.35" stroke-linecap="butt" stroke-linejoin="round" clip-path="url(#cp)"/>
<path d="M176.0 203.8 L181.7 204.2" fill="none" stroke="#000" stroke-width="1.35" stroke-linecap="butt" stroke-linejoin="round" clip-path="url(#cp)"/>
<path d="M162.0 207.8 L165.0 209.0" fill="none" stroke="#000" stroke-width="1.35" stroke-linecap="butt" stroke-linejoin="round" clip-path="url(#cp)"/>
<path d="M280.0 124.0C282.7 124.2 282.0 124.2 288.0 124.6C294.0 125.0 291.3 124.9 298.0 125.2C304.7 125.5 302.0 125.8 308.0 125.6C314.0 125.4 310.7 125.9 316.1 124.6C321.5 123.3 318.8 123.6 324.1 121.6C329.4 119.6 327.4 119.9 332.1 118.6C336.8 117.3 336.1 117.9 338.1 117.6" fill="none" stroke="#000" stroke-width="1.35" stroke-linecap="butt" stroke-linejoin="round" clip-path="url(#cp)"/>
<path d="M368.1 118.0C370.8 118.4 370.8 118.7 376.2 119.2C381.6 119.7 378.9 119.8 384.2 119.6C389.5 119.4 387.5 119.6 392.2 118.6C396.9 117.6 394.2 118.6 398.2 116.6C402.2 114.6 400.9 114.9 404.2 112.6C407.5 110.3 405.2 111.8 408.2 109.6C411.2 107.4 410.3 108.1 413.2 106.0C416.1 103.9 415.6 104.1 416.8 103.2" fill="none" stroke="#000" stroke-width="1.35" stroke-linecap="butt" stroke-linejoin="round" clip-path="url(#cp)"/>
<path d="M280.0 134.0C282.7 134.9 282.7 134.9 288.0 136.6C293.3 138.3 292.0 138.2 296.0 139.2C300.0 140.2 298.7 139.5 300.0 139.6" fill="none" stroke="#000" stroke-width="1.35" stroke-linecap="butt" stroke-linejoin="round" clip-path="url(#cp)"/>
<path d="M330.1 141.3C332.8 141.8 332.8 141.6 338.1 142.7C343.4 143.8 341.1 143.2 346.1 144.7C351.1 146.2 349.4 145.3 353.1 147.3C356.8 149.3 356.1 148.9 357.1 150.7C358.1 152.5 356.4 152.0 356.1 152.7" fill="none" stroke="#000" stroke-width="1.35" stroke-linecap="butt" stroke-linejoin="round" clip-path="url(#cp)"/>
<path d="M296.0 153.7C296.5 155.4 296.6 155.5 297.6 158.7C298.6 161.9 298.5 161.8 299.0 163.3" fill="none" stroke="#000" stroke-width="1.35" stroke-linecap="butt" stroke-linejoin="round" clip-path="url(#cp)"/>
<path d="M393.8 162.7C394.1 160.7 393.5 160.7 394.6 156.7C395.7 152.7 394.7 153.7 397.2 150.7C399.7 147.7 397.9 149.2 402.2 147.7C406.5 146.2 407.4 146.6 410.0 146.1" fill="none" stroke="#000" stroke-width="1.35" stroke-linecap="butt" stroke-linejoin="round" clip-path="url(#cp)"/>
<path d="M516.2 105.6C516.1 106.9 515.8 106.6 515.8 109.6C515.8 112.6 517.1 111.3 516.2 114.6C515.3 117.9 515.9 116.7 513.2 119.6C510.5 122.5 512.2 121.2 508.2 123.2C504.2 125.2 503.5 124.8 501.1 125.6" fill="none" stroke="#000" stroke-width="1.35" stroke-linecap="butt" stroke-linejoin="round" clip-path="url(#cp)"/>
<path d="M475.1 122.6C472.8 121.9 473.1 120.6 468.1 120.6C463.1 120.6 464.4 121.1 460.1 122.6C455.8 124.1 457.4 123.4 455.1 125.2C452.8 127.0 452.4 126.2 453.1 128.0C453.8 129.8 453.4 129.4 457.1 130.6C460.8 131.8 459.1 131.4 464.1 131.6C469.1 131.8 469.4 131.3 472.1 131.2" fill="none" stroke="#000" stroke-width="1.35" stroke-linecap="butt" stroke-linejoin="round" clip-path="url(#cp)"/>
<path d="M501.1 138.6C502.8 139.6 501.8 139.9 506.2 141.7C510.6 143.5 508.2 142.9 514.2 144.1C520.2 145.3 517.5 144.8 524.2 145.3C530.9 145.8 528.9 145.6 534.2 145.7C539.5 145.8 536.7 145.7 540.0 145.7C543.3 145.7 542.7 145.7 544.0 145.7" fill="none" stroke="#000" stroke-width="1.35" stroke-linecap="butt" stroke-linejoin="round" clip-path="url(#cp)"/>
<path d="M411.0 146.7 L414.0 146.7" fill="none" stroke="#000" stroke-width="1.35" stroke-linecap="butt" stroke-linejoin="round" clip-path="url(#cp)"/>
<path d="M421.0 135.6C422.3 134.8 422.0 134.2 425.0 133.2C428.0 132.2 426.7 131.9 430.0 132.6C433.3 133.3 433.3 134.3 435.0 135.2" fill="none" stroke="#000" stroke-width="1.35" stroke-linecap="butt" stroke-linejoin="round" clip-path="url(#cp)"/>
<path d="M444.1 145.7 L453.1 143.7" fill="none" stroke="#000" stroke-width="1.35" stroke-linecap="butt" stroke-linejoin="round" clip-path="url(#cp)"/>
<path d="M482.1 140.6 L486.1 141.3" fill="none" stroke="#000" stroke-width="1.35" stroke-linecap="butt" stroke-linejoin="round" clip-path="url(#cp)"/>
<path d="M454.5 162.7C456.4 161.4 456.2 161.0 460.1 158.7C464.0 156.4 461.8 157.5 466.1 155.7C470.4 153.9 470.8 154.1 473.1 153.3" fill="none" stroke="#000" stroke-width="1.35" stroke-linecap="butt" stroke-linejoin="round" clip-path="url(#cp)"/>
<path d="M501.1 152.7C503.5 153.6 503.2 153.0 508.2 155.3C513.2 157.6 510.9 156.6 516.2 159.7C521.5 162.8 518.9 161.9 524.2 164.7C529.5 167.5 526.9 166.4 532.2 168.1C537.5 169.8 536.1 169.0 540.0 169.7C543.9 170.4 542.7 170.0 544.0 170.1" fill="none" stroke="#000" stroke-width="1.35" stroke-linecap="butt" stroke-linejoin="round" clip-path="url(#cp)"/>
<path d="M468.1 173.7 L472.1 172.1" fill="none" stroke="#000" stroke-width="1.35" stroke-linecap="butt" stroke-linejoin="round" clip-path="url(#cp)"/>
<path d="M501.1 158.7C503.5 159.6 503.8 158.6 508.2 161.3C512.6 164.0 510.5 162.6 514.2 166.7C517.9 170.8 516.5 169.4 519.2 173.7C521.9 178.0 520.4 175.8 522.2 179.7C524.0 183.6 523.8 183.4 524.6 185.3" fill="none" stroke="#000" stroke-width="1.35" stroke-linecap="butt" stroke-linejoin="round" clip-path="url(#cp)"/>
<path d="M501.1 171.7C502.5 172.7 502.5 172.0 505.2 174.7C507.9 177.4 506.9 176.0 509.2 179.7C511.5 183.4 509.2 182.0 512.2 185.7C515.2 189.4 514.1 187.2 518.2 190.7C522.3 194.2 522.5 194.3 524.6 196.1" fill="none" stroke="#000" stroke-width="1.35" stroke-linecap="butt" stroke-linejoin="round" clip-path="url(#cp)"/>
<path d="M485.7 186.3C487.8 188.1 488.0 188.1 492.1 191.7C496.2 195.3 496.1 195.3 498.1 197.1" fill="none" stroke="#000" stroke-width="1.35" stroke-linecap="butt" stroke-linejoin="round" clip-path="url(#cp)"/>
<path d="M491.1 184.1 L493.1 186.7" fill="none" stroke="#000" stroke-width="1.35" stroke-linecap="butt" stroke-linejoin="round" clip-path="url(#cp)"/>
<path d="M596.1 128.7C595.6 130.7 595.0 131.0 594.7 134.7C594.4 138.4 593.0 137.0 595.1 139.7C597.2 142.4 599.1 141.7 601.1 142.7" fill="none" stroke="#000" stroke-width="1.35" stroke-linecap="butt" stroke-linejoin="round" clip-path="url(#cp)"/>
<g clip-path="url(#cp)">
<g transform="rotate(0 142.2 191.3)"><rect x="131.6" y="182.0" width="21.2" height="18.7" fill="#fff"/><text x="142.2" y="191.3" font-size="17.7" text-anchor="middle" dy="6.3" stroke="#fff" stroke-width="0.25">80</text></g>
<g transform="rotate(-10 165.6 196.7)"><rect x="155.0" y="187.4" width="21.2" height="18.7" fill="#fff"/><text x="165.6" y="196.7" font-size="17.7" text-anchor="middle" dy="6.3" stroke="#fff" stroke-width="0.25">80</text></g>
<g transform="rotate(0 142.2 168.3)"><rect x="131.6" y="159.0" width="21.2" height="18.7" fill="#fff"/><text x="142.2" y="168.3" font-size="17.7" text-anchor="middle" dy="6.3" stroke="#fff" stroke-width="0.25">90</text></g>
<g transform="rotate(0 163.0 150.7)"><rect x="147.5" y="141.4" width="31.0" height="18.7" fill="#fff"/><text x="163.0" y="150.7" font-size="17.7" text-anchor="middle" dy="6.3" stroke="#fff" stroke-width="0.25">100</text></g>
<g transform="rotate(0 143.2 132.2)"><rect x="127.7" y="122.9" width="31.0" height="18.7" fill="#fff"/><text x="143.2" y="132.2" font-size="17.7" text-anchor="middle" dy="6.3" stroke="#fff" stroke-width="0.25">110</text></g>
<g transform="rotate(0 487.1 166.1)"><rect x="471.6" y="156.8" width="31.0" height="18.7" fill="#fff"/><text x="487.1" y="166.1" font-size="17.7" text-anchor="middle" dy="6.3" stroke="#fff" stroke-width="0.25">110</text></g>
<g transform="rotate(0 220.1 147.7)"><rect x="204.6" y="138.4" width="31.0" height="18.7" fill="#fff"/><text x="220.1" y="147.7" font-size="17.7" text-anchor="middle" dy="6.3" stroke="#fff" stroke-width="0.25">120</text></g>
<g transform="rotate(0 487.7 150.1)"><rect x="472.2" y="140.8" width="31.0" height="18.7" fill="#fff"/><text x="487.7" y="150.1" font-size="17.7" text-anchor="middle" dy="6.3" stroke="#fff" stroke-width="0.25">120</text></g>
<g transform="rotate(0 487.1 112.7)"><rect x="471.6" y="103.4" width="31.0" height="18.7" fill="#fff"/><text x="487.1" y="112.7" font-size="17.7" text-anchor="middle" dy="6.3" stroke="#fff" stroke-width="0.25">130</text></g>
<g transform="rotate(0 353.5 126.8)"><rect x="338.0" y="117.5" width="31.0" height="18.7" fill="#fff"/><text x="353.5" y="126.8" font-size="17.7" text-anchor="middle" dy="6.3" stroke="#fff" stroke-width="0.25">130</text></g>
<g transform="rotate(0 315.5 139.0)"><rect x="300.0" y="129.7" width="31.0" height="18.7" fill="#fff"/><text x="315.5" y="139.0" font-size="17.7" text-anchor="middle" dy="6.3" stroke="#fff" stroke-width="0.25">130</text></g>
<g transform="rotate(0 468.1 141.1)"><rect x="452.6" y="131.8" width="31.0" height="18.7" fill="#fff"/><text x="468.1" y="141.1" font-size="17.7" text-anchor="middle" dy="6.3" stroke="#fff" stroke-width="0.25">130</text></g>
<g transform="rotate(0 143.2 95.7)"><rect x="127.7" y="86.4" width="31.0" height="18.7" fill="#fff"/><text x="143.2" y="95.7" font-size="17.7" text-anchor="middle" dy="6.3" stroke="#fff" stroke-width="0.25">140</text></g>
<g transform="rotate(0 468.1 97.7)"><rect x="452.6" y="88.4" width="31.0" height="18.7" fill="#fff"/><text x="468.1" y="97.7" font-size="17.7" text-anchor="middle" dy="6.3" stroke="#fff" stroke-width="0.25">140</text></g>
<g transform="rotate(0 563.1 109.7)"><rect x="547.6" y="100.4" width="31.0" height="18.7" fill="#fff"/><text x="563.1" y="109.7" font-size="17.7" text-anchor="middle" dy="6.3" stroke="#fff" stroke-width="0.25">140</text></g>
<g transform="rotate(0 353.1 116.6)"><rect x="337.6" y="107.3" width="31.0" height="18.7" fill="#fff"/><text x="353.1" y="116.6" font-size="17.7" text-anchor="middle" dy="6.3" stroke="#fff" stroke-width="0.25">140</text></g>
<g transform="rotate(0 372.1 150.1)"><rect x="356.6" y="140.8" width="31.0" height="18.7" fill="#fff"/><text x="372.1" y="150.1" font-size="17.7" text-anchor="middle" dy="6.3" stroke="#fff" stroke-width="0.25">140</text></g>
<g transform="rotate(0 487.1 131.6)"><rect x="471.6" y="122.3" width="31.0" height="18.7" fill="#fff"/><text x="487.1" y="131.6" font-size="17.7" text-anchor="middle" dy="6.3" stroke="#fff" stroke-width="0.25">140</text></g>
<g transform="rotate(0 429.6 144.1)"><rect x="414.1" y="134.8" width="31.0" height="18.7" fill="#fff"/><text x="429.6" y="144.1" font-size="17.7" text-anchor="middle" dy="6.3" stroke="#fff" stroke-width="0.25">140</text></g>
<g transform="rotate(0 200.5 98.3)"><rect x="185.0" y="89.0" width="31.0" height="18.7" fill="#fff"/><text x="200.5" y="98.3" font-size="17.7" text-anchor="middle" dy="6.3" stroke="#fff" stroke-width="0.25">150</text></g>
<g transform="rotate(0 316 101.9)"><rect x="300.5" y="92.6" width="31.0" height="18.7" fill="#fff"/><text x="316" y="101.9" font-size="17.7" text-anchor="middle" dy="6.3" stroke="#fff" stroke-width="0.25">150</text></g>
<g transform="rotate(35 582.1 94.7)"><rect x="566.6" y="85.4" width="31.0" height="18.7" fill="#fff"/><text x="582.1" y="94.7" font-size="17.7" text-anchor="middle" dy="6.3" stroke="#fff" stroke-width="0.25">150</text></g>
<g transform="rotate(4 200.5 84.1)"><rect x="185.0" y="74.8" width="31.0" height="18.7" fill="#fff"/><text x="200.5" y="84.1" font-size="17.7" text-anchor="middle" dy="6.3" stroke="#fff" stroke-width="0.25">160</text></g>
<g transform="rotate(8 315.5 91.8)"><rect x="300.0" y="82.5" width="31.0" height="18.7" fill="#fff"/><text x="315.5" y="91.8" font-size="17.7" text-anchor="middle" dy="6.3" stroke="#fff" stroke-width="0.25">160</text></g>
<g transform="rotate(-28 434.0 81.7)"><rect x="418.5" y="72.4" width="31.0" height="18.7" fill="#fff"/><text x="434.0" y="81.7" font-size="17.7" text-anchor="middle" dy="6.3" stroke="#fff" stroke-width="0.25">160</text></g>
</g>
<use href="#frame"/>
<text x="21.3" y="30.4"  font-size="14" text-anchor="end" textLength="21.4" lengthAdjust="spacingAndGlyphs">80N</text>
<text x="21.3" y="53.3"  font-size="14" text-anchor="end" textLength="21.4" lengthAdjust="spacingAndGlyphs">75N</text>
<text x="21.3" y="76.1"  font-size="14" text-anchor="end" textLength="21.4" lengthAdjust="spacingAndGlyphs">70N</text>
<text x="21.3" y="99.0"  font-size="14" text-anchor="end" textLength="21.4" lengthAdjust="spacingAndGlyphs">65N</text>
<text x="21.3" y="121.8"  font-size="14" text-anchor="end" textLength="21.4" lengthAdjust="spacingAndGlyphs">60N</text>
<text x="21.3" y="144.7"  font-size="14" text-anchor="end" textLength="21.4" lengthAdjust="spacingAndGlyphs">55N</text>
<text x="21.3" y="167.6"  font-size="14" text-anchor="end" textLength="21.4" lengthAdjust="spacingAndGlyphs">50N</text>
<text x="21.3" y="190.4"  font-size="14" text-anchor="end" textLength="21.4" lengthAdjust="spacingAndGlyphs">45N</text>
<text x="21.3" y="213.3"  font-size="14" text-anchor="end" textLength="21.4" lengthAdjust="spacingAndGlyphs">40N</text>
<text x="28.8" y="224.0" font-size="14" text-anchor="middle" textLength="21.2" lengthAdjust="spacingAndGlyphs">20E</text>
<text x="105.1" y="224.0" font-size="14" text-anchor="middle" textLength="21.2" lengthAdjust="spacingAndGlyphs">40E</text>
<text x="181.4" y="224.0" font-size="14" text-anchor="middle" textLength="21.2" lengthAdjust="spacingAndGlyphs">60E</text>
<text x="257.7" y="224.0" font-size="14" text-anchor="middle" textLength="21.2" lengthAdjust="spacingAndGlyphs">80E</text>
<text x="334.1" y="224.0" font-size="14" text-anchor="middle" textLength="28.2" lengthAdjust="spacingAndGlyphs">100E</text>
<text x="410.4" y="224.0" font-size="14" text-anchor="middle" textLength="28.2" lengthAdjust="spacingAndGlyphs">120E</text>
<text x="486.7" y="224.0" font-size="14" text-anchor="middle" textLength="28.2" lengthAdjust="spacingAndGlyphs">140E</text>
<text x="563.0" y="224.0" font-size="14" text-anchor="middle" textLength="28.2" lengthAdjust="spacingAndGlyphs">160E</text>
<text x="639.3" y="224.0" font-size="14" text-anchor="middle" textLength="21.2" lengthAdjust="spacingAndGlyphs">180</text>
<text transform="translate(28.0 12.7) scale(0.86 1)" font-size="24" letter-spacing="2.4" stroke="#fff" stroke-width="0.4">b.</text>
</g>
<g transform="translate(0 489.0)">
<use href="#grid"/>
<g clip-path="url(#cp)"><use href="#coast"/></g>
<path d="M104.1 78.9C107.5 79.0 107.5 78.8 114.2 79.3C120.9 79.8 120.9 80.0 124.2 80.3" fill="none" stroke="#000" stroke-width="1.35" stroke-linecap="butt" stroke-linejoin="round" clip-path="url(#cp)"/>
<path d="M85.1 95.3C88.1 95.4 87.8 95.4 94.1 95.7C100.4 96.0 97.4 95.8 104.1 96.3C110.8 96.8 108.2 96.4 114.2 97.3C120.2 98.2 117.5 97.6 122.2 98.9C126.9 100.2 124.2 99.5 128.2 101.3C132.2 103.1 130.2 102.3 134.2 104.3C138.2 106.3 136.5 106.0 140.2 107.3C143.9 108.6 141.9 108.2 145.2 108.3C148.5 108.4 147.7 108.2 150.0 107.7C152.3 107.2 151.5 107.0 152.2 106.7" fill="none" stroke="#000" stroke-width="1.35" stroke-linecap="butt" stroke-linejoin="round" clip-path="url(#cp)"/>
<path d="M85.1 102.7C87.4 103.0 87.1 102.5 92.1 103.7C97.1 104.9 94.8 104.3 100.1 106.3C105.4 108.3 102.7 107.6 108.1 109.7C113.5 111.8 110.8 110.5 116.2 112.7C121.6 114.9 118.9 113.8 124.2 116.4C129.5 119.0 126.9 118.1 132.2 120.4C137.5 122.7 134.3 121.6 140.2 123.4C146.1 125.2 144.1 124.1 150.0 125.8C155.9 127.5 152.0 126.2 158.0 128.4C164.0 130.6 161.3 130.1 168.0 132.4C174.7 134.7 171.7 134.1 178.1 135.4C184.5 136.7 181.1 136.4 187.1 136.4C193.1 136.4 190.8 135.1 196.1 135.4C201.4 135.7 199.1 135.7 203.1 137.4C207.1 139.1 206.4 139.4 208.1 140.4" fill="none" stroke="#000" stroke-width="1.35" stroke-linecap="butt" stroke-linejoin="round" clip-path="url(#cp)"/>
<path d="M203.1 70.9C203.3 72.7 202.7 72.8 203.7 76.3C204.7 79.8 203.3 78.6 206.1 81.3C208.9 84.0 206.8 82.6 212.1 84.3C217.4 86.0 218.8 85.6 222.1 86.3" fill="none" stroke="#000" stroke-width="1.35" stroke-linecap="butt" stroke-linejoin="round" clip-path="url(#cp)"/>
<path d="M255.2 89.3 L258.2 88.9" fill="none" stroke="#000" stroke-width="1.35" stroke-linecap="butt" stroke-linejoin="round" clip-path="url(#cp)"/>
<path d="M152.0 82.3C152.7 84.0 152.0 83.6 154.0 87.3C156.0 91.0 154.7 90.5 158.0 93.3C161.3 96.1 159.3 94.7 164.0 95.7C168.7 96.7 166.7 95.8 172.0 96.3C177.3 96.8 174.6 95.6 180.0 97.3C185.4 99.0 183.1 98.5 188.1 101.3C193.1 104.1 190.8 103.4 195.1 105.7C199.4 108.0 196.8 108.1 201.1 108.3C205.4 108.5 203.8 108.1 208.1 106.3C212.4 104.5 210.1 104.7 214.1 102.9C218.1 101.1 215.8 101.1 220.1 100.9C224.4 100.7 222.4 100.8 227.1 102.3C231.8 103.8 228.4 104.0 234.1 105.3C239.8 106.6 237.5 106.6 244.2 106.3C250.9 106.0 248.9 104.6 254.2 104.3C259.5 104.0 256.2 103.0 260.2 105.3C264.2 107.6 262.2 107.6 266.2 111.3C270.2 115.0 267.6 114.0 272.2 116.4C276.8 118.8 277.4 117.7 280.0 118.4" fill="none" stroke="#000" stroke-width="1.35" stroke-linecap="butt" stroke-linejoin="round" clip-path="url(#cp)"/>
<path d="M150.0 107.3C152.7 107.0 152.7 106.0 158.0 106.3C163.3 106.6 160.7 106.6 166.0 108.3C171.3 110.0 169.7 109.6 174.0 111.3C178.3 113.0 177.3 112.7 179.0 113.4" fill="none" stroke="#000" stroke-width="1.35" stroke-linecap="butt" stroke-linejoin="round" clip-path="url(#cp)"/>
<path d="M295.6 94.9 L298.4 94.9" fill="none" stroke="#000" stroke-width="1.35" stroke-linecap="butt" stroke-linejoin="round" clip-path="url(#cp)"/>
<path d="M331.7 95.7 L340.1 93.9" fill="none" stroke="#000" stroke-width="1.35" stroke-linecap="butt" stroke-linejoin="round" clip-path="url(#cp)"/>
<path d="M280.0 118.4C282.7 117.7 282.0 117.5 288.0 116.4C294.0 115.3 291.3 115.5 298.0 115.0C304.7 114.5 301.3 115.2 308.0 115.0C314.7 114.8 314.7 114.6 318.1 114.4" fill="none" stroke="#000" stroke-width="1.35" stroke-linecap="butt" stroke-linejoin="round" clip-path="url(#cp)"/>
<path d="M349.1 112.3C352.1 112.5 352.4 112.3 358.1 113.0C363.8 113.7 360.7 113.3 366.1 114.4C371.5 115.5 368.8 115.1 374.2 116.4C379.6 117.7 377.2 117.5 382.2 118.4C387.2 119.3 385.2 119.0 389.2 119.0C393.2 119.0 390.5 119.6 394.2 118.4C397.9 117.2 396.2 117.8 400.2 115.4C404.2 113.0 402.9 113.3 406.2 111.3C409.5 109.3 408.7 110.0 410.0 109.3" fill="none" stroke="#000" stroke-width="1.35" stroke-linecap="butt" stroke-linejoin="round" clip-path="url(#cp)"/>
<path d="M429.4 87.3 L430.6 86.9" fill="none" stroke="#000" stroke-width="1.35" stroke-linecap="butt" stroke-linejoin="round" clip-path="url(#cp)"/>
<path d="M428.4 93.9 L429.6 93.5" fill="none" stroke="#000" stroke-width="1.35" stroke-linecap="butt" stroke-linejoin="round" clip-path="url(#cp)"/>
<path d="M410.0 109.3C412.3 108.6 412.3 108.6 417.0 107.3C421.7 106.0 421.7 106.0 424.0 105.3" fill="none" stroke="#000" stroke-width="1.35" stroke-linecap="butt" stroke-linejoin="round" clip-path="url(#cp)"/>
<path d="M465.1 99.7C468.8 98.9 468.8 98.9 476.1 97.3C483.4 95.7 483.4 95.7 487.1 94.9" fill="none" stroke="#000" stroke-width="1.35" stroke-linecap="butt" stroke-linejoin="round" clip-path="url(#cp)"/>
<path d="M516.2 105.3C517.5 107.0 516.9 107.3 520.2 110.3C523.5 113.3 524.2 113.0 526.2 114.4" fill="none" stroke="#000" stroke-width="1.35" stroke-linecap="butt" stroke-linejoin="round" clip-path="url(#cp)"/>
<path d="M519.0 109.2C520.0 110.2 519.3 110.3 522.0 112.2C524.7 114.1 525.3 113.9 527.0 114.8" fill="none" stroke="#000" stroke-width="1.35" stroke-linecap="butt" stroke-linejoin="round" clip-path="url(#cp)"/>
<path d="M582.1 94.3C584.4 96.3 584.6 96.5 589.1 100.3C593.6 104.1 593.4 103.9 595.5 105.7" fill="none" stroke="#000" stroke-width="1.35" stroke-linecap="butt" stroke-linejoin="round" clip-path="url(#cp)"/>
<path d="M609.1 94.3C608.4 96.3 608.4 96.5 607.1 100.3C605.8 104.1 605.8 103.9 605.1 105.7" fill="none" stroke="#000" stroke-width="1.35" stroke-linecap="butt" stroke-linejoin="round" clip-path="url(#cp)"/>
<path d="M579.1 126.3 L582.1 128.3" fill="none" stroke="#000" stroke-width="1.35" stroke-linecap="butt" stroke-linejoin="round" clip-path="url(#cp)"/>
<path d="M617.2 127.7 L620.8 129.3" fill="none" stroke="#000" stroke-width="1.35" stroke-linecap="butt" stroke-linejoin="round" clip-path="url(#cp)"/>
<path d="M85.1 124.2C86.4 125.5 85.4 125.5 89.1 128.2C92.8 130.9 91.1 129.5 96.1 132.2C101.1 134.9 99.1 133.5 104.1 136.2C109.1 138.9 106.4 137.5 111.1 140.2C115.8 142.9 113.8 142.1 118.2 144.3C122.6 146.5 120.9 146.6 124.2 146.9C127.5 147.2 126.9 145.8 128.2 145.3" fill="none" stroke="#000" stroke-width="1.35" stroke-linecap="butt" stroke-linejoin="round" clip-path="url(#cp)"/>
<path d="M85.7 136.2C87.8 137.2 88.0 136.8 92.1 139.2C96.2 141.6 94.1 140.3 98.1 143.3C102.1 146.3 100.8 145.6 104.1 148.3C107.4 151.0 106.2 148.3 108.1 151.3C110.0 154.3 109.2 155.3 109.7 157.3" fill="none" stroke="#000" stroke-width="1.35" stroke-linecap="butt" stroke-linejoin="round" clip-path="url(#cp)"/>
<path d="M139.2 162.9C140.9 162.4 140.6 162.5 144.2 161.3C147.8 160.1 145.4 161.0 150.0 159.3C154.6 157.6 152.0 157.5 158.0 156.3C164.0 155.1 161.3 155.4 168.0 155.7C174.7 156.0 172.4 155.8 178.1 157.3C183.8 158.8 181.1 158.4 185.1 160.3C189.1 162.2 188.4 162.0 190.1 162.9" fill="none" stroke="#000" stroke-width="1.35" stroke-linecap="butt" stroke-linejoin="round" clip-path="url(#cp)"/>
<path d="M124.2 175.3 L128.2 180.3" fill="none" stroke="#000" stroke-width="1.35" stroke-linecap="butt" stroke-linejoin="round" clip-path="url(#cp)"/>
<path d="M174.4 110.8C175.6 111.3 173.4 110.4 178.0 112.2C182.6 114.0 181.4 113.2 188.1 116.2C194.8 119.2 191.4 117.9 198.1 121.2C204.8 124.5 202.1 123.2 208.1 126.2C214.1 129.2 212.1 128.2 216.1 130.2C220.1 132.2 217.4 132.2 220.1 132.2C222.8 132.2 222.8 130.9 224.1 130.2" fill="none" stroke="#000" stroke-width="1.35" stroke-linecap="butt" stroke-linejoin="round" clip-path="url(#cp)"/>
<path d="M254.2 126.8C256.9 127.1 256.9 126.8 262.2 127.6C267.5 128.4 264.3 128.0 270.2 129.2C276.1 130.4 276.7 130.5 280.0 131.2" fill="none" stroke="#000" stroke-width="1.35" stroke-linecap="butt" stroke-linejoin="round" clip-path="url(#cp)"/>
<path d="M264.2 109.2C265.5 110.9 264.9 111.4 268.2 114.2C271.5 117.0 270.3 116.3 274.2 117.6C278.1 118.9 278.1 118.0 280.0 118.2" fill="none" stroke="#000" stroke-width="1.35" stroke-linecap="butt" stroke-linejoin="round" clip-path="url(#cp)"/>
<path d="M232.1 139.2C234.1 138.2 234.1 136.9 238.1 136.2C242.1 135.5 240.8 135.9 244.2 137.2C247.6 138.5 246.2 137.5 248.2 140.2C250.2 142.9 249.2 141.6 250.2 145.3C251.2 149.0 250.9 149.3 251.2 151.3" fill="none" stroke="#000" stroke-width="1.35" stroke-linecap="butt" stroke-linejoin="round" clip-path="url(#cp)"/>
<path d="M158.0 143.7C160.7 144.8 160.7 145.0 166.0 146.9C171.3 148.8 168.0 147.8 174.0 149.3C180.0 150.8 177.4 150.3 184.1 151.3C190.8 152.3 188.8 151.0 194.1 152.3C199.4 153.6 197.1 153.0 200.1 155.3C203.1 157.6 201.4 156.8 203.1 159.3C204.8 161.8 204.4 161.7 205.1 162.9" fill="none" stroke="#000" stroke-width="1.35" stroke-linecap="butt" stroke-linejoin="round" clip-path="url(#cp)"/>
<path d="M158.7 174.1C161.0 173.7 160.8 174.1 165.5 172.9C170.2 171.7 167.6 172.5 172.9 170.4C178.2 168.3 178.6 167.9 181.5 166.7" fill="none" stroke="#000" stroke-width="1.35" stroke-linecap="butt" stroke-linejoin="round" clip-path="url(#cp)"/>
<path d="M162.0 200.9C164.7 201.2 163.4 201.2 170.0 201.7C176.6 202.2 177.8 202.1 181.7 202.3" fill="none" stroke="#000" stroke-width="1.35" stroke-linecap="butt" stroke-linejoin="round" clip-path="url(#cp)"/>
<path d="M162.0 207.8 L165.0 208.8" fill="none" stroke="#000" stroke-width="1.35" stroke-linecap="butt" stroke-linejoin="round" clip-path="url(#cp)"/>
<path d="M280.0 118.2C282.7 117.7 282.0 117.8 288.0 116.8C294.0 115.8 291.3 115.9 298.0 115.2C304.7 114.5 301.3 115.1 308.0 114.8C314.7 114.5 314.7 114.4 318.1 114.2" fill="none" stroke="#000" stroke-width="1.35" stroke-linecap="butt" stroke-linejoin="round" clip-path="url(#cp)"/>
<path d="M280.0 131.2C282.7 132.2 282.7 132.3 288.0 134.2C293.3 136.1 290.0 135.6 296.0 136.8C302.0 138.0 299.3 137.1 306.0 137.8C312.7 138.5 309.4 138.0 316.1 138.8C322.8 139.6 319.4 139.0 326.1 140.2C332.8 141.4 329.4 141.1 336.1 142.3C342.8 143.5 340.8 142.6 346.1 143.7C351.4 144.8 348.9 143.8 352.1 145.7C355.3 147.6 353.8 147.1 355.7 149.3C357.6 151.5 357.0 151.3 357.7 152.3" fill="none" stroke="#000" stroke-width="1.35" stroke-linecap="butt" stroke-linejoin="round" clip-path="url(#cp)"/>
<path d="M399.8 162.9C399.4 161.0 398.8 161.2 398.6 157.3C398.4 153.4 397.7 154.6 399.2 151.3C400.7 148.0 399.6 149.4 403.2 147.3C406.8 145.2 405.7 145.6 410.0 144.9C414.3 144.2 412.0 144.0 416.0 145.3C420.0 146.6 417.3 147.2 422.0 148.9C426.7 150.6 424.6 150.2 430.0 150.3C435.4 150.4 432.1 150.4 438.1 149.3C444.1 148.2 441.4 148.6 448.1 146.9C454.8 145.2 451.8 145.6 458.1 144.3C464.4 143.0 462.4 143.6 467.1 142.9C471.8 142.2 470.4 142.5 472.1 142.3" fill="none" stroke="#000" stroke-width="1.35" stroke-linecap="butt" stroke-linejoin="round" clip-path="url(#cp)"/>
<path d="M453.1 129.2C452.8 128.2 451.1 128.5 452.1 126.2C453.1 123.9 452.1 124.7 456.1 122.2C460.1 119.7 458.8 119.8 464.1 118.8C469.4 117.8 466.8 118.3 472.1 119.2C477.4 120.1 474.8 119.6 480.1 121.6C485.4 123.6 484.1 123.0 488.1 125.2C492.1 127.4 491.8 126.7 492.1 128.2C492.4 129.7 492.1 128.9 489.1 129.6C486.1 130.3 485.1 130.0 483.1 130.2" fill="none" stroke="#000" stroke-width="1.35" stroke-linecap="butt" stroke-linejoin="round" clip-path="url(#cp)"/>
<path d="M501.1 146.3C503.5 146.5 503.2 147.1 508.2 146.9C513.2 146.7 510.2 146.8 516.2 145.7C522.2 144.6 520.2 144.6 526.2 143.7C532.2 142.8 529.6 143.0 534.2 142.9C538.8 142.8 536.7 143.0 540.0 143.3C543.3 143.6 542.7 143.6 544.0 143.7" fill="none" stroke="#000" stroke-width="1.35" stroke-linecap="butt" stroke-linejoin="round" clip-path="url(#cp)"/>
<path d="M458.1 162.3C460.1 161.0 459.8 160.5 464.1 158.3C468.4 156.1 468.8 156.6 471.1 155.7" fill="none" stroke="#000" stroke-width="1.35" stroke-linecap="butt" stroke-linejoin="round" clip-path="url(#cp)"/>
<path d="M501.1 157.7C503.5 158.6 503.2 158.4 508.2 160.3C513.2 162.2 510.2 161.3 516.2 163.3C522.2 165.3 520.2 164.8 526.2 166.3C532.2 167.8 529.6 167.0 534.2 167.7C538.8 168.4 536.7 168.0 540.0 168.3C543.3 168.6 542.7 168.6 544.0 168.7" fill="none" stroke="#000" stroke-width="1.35" stroke-linecap="butt" stroke-linejoin="round" clip-path="url(#cp)"/>
<path d="M501.1 174.3C503.5 175.0 503.2 175.3 508.2 176.3C513.2 177.3 510.9 176.6 516.2 177.3C521.5 178.0 518.9 177.3 524.2 178.3C529.5 179.3 526.9 179.2 532.2 180.3C537.5 181.4 536.1 180.9 540.0 181.7C543.9 182.5 542.7 182.4 544.0 182.7" fill="none" stroke="#000" stroke-width="1.35" stroke-linecap="butt" stroke-linejoin="round" clip-path="url(#cp)"/>
<path d="M486.6 184.6 L490.3 186.5" fill="none" stroke="#000" stroke-width="1.35" stroke-linecap="butt" stroke-linejoin="round" clip-path="url(#cp)"/>
<path d="M521.5 196.7 L524.9 197.2" fill="none" stroke="#000" stroke-width="1.35" stroke-linecap="butt" stroke-linejoin="round" clip-path="url(#cp)"/>
<path d="M519.2 109.2C520.2 110.2 519.9 110.5 522.2 112.2C524.5 113.9 523.9 113.3 526.2 114.2C528.5 115.1 528.2 114.6 529.2 114.8" fill="none" stroke="#000" stroke-width="1.35" stroke-linecap="butt" stroke-linejoin="round" clip-path="url(#cp)"/>
<g clip-path="url(#cp)">
<g transform="rotate(30 143.5 193.5)"><rect x="128.0" y="184.2" width="31.0" height="18.7" fill="#fff"/><text x="143.5" y="193.5" font-size="17.7" text-anchor="middle" dy="6.3" stroke="#fff" stroke-width="0.25">120</text></g>
<g transform="rotate(0 144.6 177.3)"><rect x="129.1" y="168.0" width="31.0" height="18.7" fill="#fff"/><text x="144.6" y="177.3" font-size="17.7" text-anchor="middle" dy="6.3" stroke="#fff" stroke-width="0.25">140</text></g>
<g transform="rotate(0 124.2 164.3)"><rect x="108.7" y="155.0" width="31.0" height="18.7" fill="#fff"/><text x="124.2" y="164.3" font-size="17.7" text-anchor="middle" dy="6.3" stroke="#fff" stroke-width="0.25">160</text></g>
<g transform="rotate(12 506.4 193.5)"><rect x="490.9" y="184.2" width="31.0" height="18.7" fill="#fff"/><text x="506.4" y="193.5" font-size="17.7" text-anchor="middle" dy="6.3" stroke="#fff" stroke-width="0.25">160</text></g>
<g transform="rotate(0 144.6 136.2)"><rect x="129.1" y="126.9" width="31.0" height="18.7" fill="#fff"/><text x="144.6" y="136.2" font-size="17.7" text-anchor="middle" dy="6.3" stroke="#fff" stroke-width="0.25">180</text></g>
<g transform="rotate(0 487.1 168.9)"><rect x="471.6" y="159.6" width="31.0" height="18.7" fill="#fff"/><text x="487.1" y="168.9" font-size="17.7" text-anchor="middle" dy="6.3" stroke="#fff" stroke-width="0.25">180</text></g>
<g transform="rotate(0 219.5 148.7)"><rect x="204.0" y="139.4" width="31.0" height="18.7" fill="#fff"/><text x="219.5" y="148.7" font-size="17.7" text-anchor="middle" dy="6.3" stroke="#fff" stroke-width="0.25">200</text></g>
<g transform="rotate(0 487.1 151.3)"><rect x="471.6" y="142.0" width="31.0" height="18.7" fill="#fff"/><text x="487.1" y="151.3" font-size="17.7" text-anchor="middle" dy="6.3" stroke="#fff" stroke-width="0.25">200</text></g>
<g transform="rotate(0 238.5 124.2)"><rect x="223.0" y="114.9" width="31.0" height="18.7" fill="#fff"/><text x="238.5" y="124.2" font-size="17.7" text-anchor="middle" dy="6.3" stroke="#fff" stroke-width="0.25">220</text></g>
<g transform="rotate(0 353.1 126.8)"><rect x="337.6" y="117.5" width="31.0" height="18.7" fill="#fff"/><text x="353.1" y="126.8" font-size="17.7" text-anchor="middle" dy="6.3" stroke="#fff" stroke-width="0.25">220</text></g>
<g transform="rotate(0 487.1 141.3)"><rect x="471.6" y="132.0" width="31.0" height="18.7" fill="#fff"/><text x="487.1" y="141.3" font-size="17.7" text-anchor="middle" dy="6.3" stroke="#fff" stroke-width="0.25">220</text></g>
<g transform="rotate(0 333.7 112.3)"><rect x="318.2" y="103.0" width="31.0" height="18.7" fill="#fff"/><text x="333.7" y="112.3" font-size="17.7" text-anchor="middle" dy="6.3" stroke="#fff" stroke-width="0.25">240</text></g>
<g transform="rotate(8 448.1 101.3)"><rect x="432.6" y="92.0" width="31.0" height="18.7" fill="#fff"/><text x="448.1" y="101.3" font-size="17.7" text-anchor="middle" dy="6.3" stroke="#fff" stroke-width="0.25">240</text></g>
<g transform="rotate(-15 544.0 112.2)"><rect x="528.5" y="102.9" width="31.0" height="18.7" fill="#fff"/><text x="544.0" y="112.2" font-size="17.7" text-anchor="middle" dy="6.3" stroke="#fff" stroke-width="0.25">240</text></g>
<g transform="rotate(40 567.5 106.6)"><rect x="555.1" y="99.1" width="24.8" height="14.9" fill="#fff"/><text x="567.5" y="106.6" font-size="17.7" text-anchor="middle" dy="6.3" stroke="#fff" stroke-width="0.25">240</text></g>
<g transform="rotate(0 626.2 105.8)"><rect x="610.7" y="96.5" width="31.0" height="18.7" fill="#fff"/><text x="626.2" y="105.8" font-size="17.7" text-anchor="middle" dy="6.3" stroke="#fff" stroke-width="0.25">240</text></g>
<g transform="rotate(0 429.0 133.6)"><rect x="413.5" y="124.3" width="31.0" height="18.7" fill="#fff"/><text x="429.0" y="133.6" font-size="17.7" text-anchor="middle" dy="6.3" stroke="#fff" stroke-width="0.25">240</text></g>
<g transform="rotate(0 467.1 134.2)"><rect x="451.6" y="124.9" width="31.0" height="18.7" fill="#fff"/><text x="467.1" y="134.2" font-size="17.7" text-anchor="middle" dy="6.3" stroke="#fff" stroke-width="0.25">240</text></g>
<g transform="rotate(0 238.5 89.7)"><rect x="223.0" y="80.4" width="31.0" height="18.7" fill="#fff"/><text x="238.5" y="89.7" font-size="17.7" text-anchor="middle" dy="6.3" stroke="#fff" stroke-width="0.25">260</text></g>
<g transform="rotate(0 314.1 95.9)"><rect x="298.6" y="86.6" width="31.0" height="18.7" fill="#fff"/><text x="314.1" y="95.9" font-size="17.7" text-anchor="middle" dy="6.3" stroke="#fff" stroke-width="0.25">260</text></g>
<g transform="rotate(-20 445.7 83.3)"><rect x="430.2" y="74.0" width="31.0" height="18.7" fill="#fff"/><text x="445.7" y="83.3" font-size="17.7" text-anchor="middle" dy="6.3" stroke="#fff" stroke-width="0.25">260</text></g>
<path d="M424.0 141.2C426.0 141.7 426.0 142.8 430.0 142.8C434.0 142.8 434.0 141.7 436.0 141.2" fill="none" stroke="#000" stroke-width="1.35"/>
</g>
<use href="#frame"/>
<text x="21.3" y="30.4"  font-size="14" text-anchor="end" textLength="21.4" lengthAdjust="spacingAndGlyphs">80N</text>
<text x="21.3" y="53.3"  font-size="14" text-anchor="end" textLength="21.4" lengthAdjust="spacingAndGlyphs">75N</text>
<text x="21.3" y="76.1"  font-size="14" text-anchor="end" textLength="21.4" lengthAdjust="spacingAndGlyphs">70N</text>
<text x="21.3" y="99.0"  font-size="14" text-anchor="end" textLength="21.4" lengthAdjust="spacingAndGlyphs">65N</text>
<text x="21.3" y="121.8"  font-size="14" text-anchor="end" textLength="21.4" lengthAdjust="spacingAndGlyphs">60N</text>
<text x="21.3" y="144.7"  font-size="14" text-anchor="end" textLength="21.4" lengthAdjust="spacingAndGlyphs">55N</text>
<text x="21.3" y="167.6"  font-size="14" text-anchor="end" textLength="21.4" lengthAdjust="spacingAndGlyphs">50N</text>
<text x="21.3" y="190.4"  font-size="14" text-anchor="end" textLength="21.4" lengthAdjust="spacingAndGlyphs">45N</text>
<text x="21.3" y="213.3"  font-size="14" text-anchor="end" textLength="21.4" lengthAdjust="spacingAndGlyphs">40N</text>
<text x="28.8" y="224.0" font-size="14" text-anchor="middle" textLength="21.2" lengthAdjust="spacingAndGlyphs">20E</text>
<text x="105.1" y="224.0" font-size="14" text-anchor="middle" textLength="21.2" lengthAdjust="spacingAndGlyphs">40E</text>
<text x="181.4" y="224.0" font-size="14" text-anchor="middle" textLength="21.2" lengthAdjust="spacingAndGlyphs">60E</text>
<text x="257.7" y="224.0" font-size="14" text-anchor="middle" textLength="21.2" lengthAdjust="spacingAndGlyphs">80E</text>
<text x="334.1" y="224.0" font-size="14" text-anchor="middle" textLength="28.2" lengthAdjust="spacingAndGlyphs">100E</text>
<text x="410.4" y="224.0" font-size="14" text-anchor="middle" textLength="28.2" lengthAdjust="spacingAndGlyphs">120E</text>
<text x="486.7" y="224.0" font-size="14" text-anchor="middle" textLength="28.2" lengthAdjust="spacingAndGlyphs">140E</text>
<text x="563.0" y="224.0" font-size="14" text-anchor="middle" textLength="28.2" lengthAdjust="spacingAndGlyphs">160E</text>
<text x="639.3" y="224.0" font-size="14" text-anchor="middle" textLength="21.2" lengthAdjust="spacingAndGlyphs">180</text>
<text transform="translate(31.2 12.7) scale(0.86 1)" font-size="24" letter-spacing="2.4" stroke="#fff" stroke-width="0.4">c.</text>
</g>
</svg></body></html>
